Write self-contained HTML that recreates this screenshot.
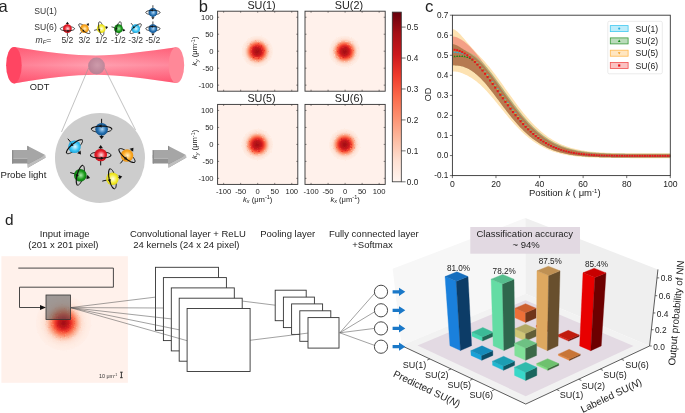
<!DOCTYPE html>
<html><head><meta charset="utf-8"><style>
html,body{margin:0;padding:0;background:#fff;overflow:hidden;width:685px;height:413px;}
svg{display:block;will-change:transform;}
text{font-family:"Liberation Sans",sans-serif;}
</style></head><body>
<svg width="685" height="413" viewBox="0 0 685 413">
<defs><radialGradient id="g_red" cx="0.5" cy="0.5" r="0.55" fx="0.55" fy="0.5"><stop offset="0" stop-color="#ffe0e4"/><stop offset="0.6" stop-color="#e8202c"/><stop offset="1" stop-color="#c01018"/></radialGradient><radialGradient id="g_orange" cx="0.5" cy="0.5" r="0.55" fx="0.55" fy="0.5"><stop offset="0" stop-color="#fff0c8"/><stop offset="0.6" stop-color="#fba820"/><stop offset="1" stop-color="#e08a10"/></radialGradient><radialGradient id="g_yellow" cx="0.5" cy="0.5" r="0.55" fx="0.55" fy="0.5"><stop offset="0" stop-color="#fffff0"/><stop offset="0.6" stop-color="#f4ec30"/><stop offset="1" stop-color="#d8d010"/></radialGradient><radialGradient id="g_green" cx="0.5" cy="0.5" r="0.55" fx="0.55" fy="0.5"><stop offset="0" stop-color="#a8e8a8"/><stop offset="0.6" stop-color="#1a9a1a"/><stop offset="1" stop-color="#0a6a10"/></radialGradient><radialGradient id="g_cyan" cx="0.5" cy="0.5" r="0.55" fx="0.55" fy="0.5"><stop offset="0" stop-color="#e0f8ff"/><stop offset="0.6" stop-color="#38c4f4"/><stop offset="1" stop-color="#1898d0"/></radialGradient><radialGradient id="g_blue" cx="0.5" cy="0.5" r="0.55" fx="0.55" fy="0.5"><stop offset="0" stop-color="#b0d8f8"/><stop offset="0.6" stop-color="#2470b0"/><stop offset="1" stop-color="#104a80"/></radialGradient><linearGradient id="beam" x1="0" y1="0" x2="0" y2="1"><stop offset="0" stop-color="#ff6a80"/><stop offset="0.5" stop-color="#ffa0b0"/><stop offset="1" stop-color="#ff5a74"/></linearGradient><linearGradient id="beamH" x1="0" y1="0" x2="1" y2="0"><stop offset="0" stop-color="#ff4060" stop-opacity="0.35"/><stop offset="0.5" stop-color="#ff4060" stop-opacity="0"/><stop offset="1" stop-color="#ff4060" stop-opacity="0.25"/></linearGradient><radialGradient id="pur" cx="0.55" cy="0.45" r="0.6"><stop offset="0" stop-color="#c89aaa"/><stop offset="1" stop-color="#b07e92"/></radialGradient><linearGradient id="arr" x1="0" y1="0" x2="0" y2="1"><stop offset="0" stop-color="#c8c8c8"/><stop offset="0.45" stop-color="#b0b0b0"/><stop offset="1" stop-color="#8a8a8a"/></linearGradient><filter id="speck" x="-10%" y="-10%" width="120%" height="120%"><feTurbulence type="fractalNoise" baseFrequency="0.7" numOctaves="1" seed="3" result="n"/><feDisplacementMap in="SourceGraphic" in2="n" scale="2.6" xChannelSelector="R" yChannelSelector="G"/></filter><radialGradient id="blob" cx="0.5" cy="0.5" r="0.5"><stop offset="0.000" stop-color="#a60f15" stop-opacity="1.0"/><stop offset="0.033" stop-color="#a71015" stop-opacity="1.0"/><stop offset="0.067" stop-color="#aa1016" stop-opacity="1.0"/><stop offset="0.100" stop-color="#ad1117" stop-opacity="1.0"/><stop offset="0.133" stop-color="#b11218" stop-opacity="1.0"/><stop offset="0.167" stop-color="#b61319" stop-opacity="1.0"/><stop offset="0.200" stop-color="#bc141a" stop-opacity="1.0"/><stop offset="0.233" stop-color="#c2161b" stop-opacity="1.0"/><stop offset="0.267" stop-color="#ca181d" stop-opacity="1.0"/><stop offset="0.300" stop-color="#d21e20" stop-opacity="1.0"/><stop offset="0.333" stop-color="#da2723" stop-opacity="1.0"/><stop offset="0.367" stop-color="#e43128" stop-opacity="1.0"/><stop offset="0.400" stop-color="#ef3c2d" stop-opacity="1.0"/><stop offset="0.433" stop-color="#f44d37" stop-opacity="1.0"/><stop offset="0.467" stop-color="#f85f43" stop-opacity="1.0"/><stop offset="0.500" stop-color="#fb7151" stop-opacity="1.0"/><stop offset="0.533" stop-color="#fc8363" stop-opacity="1.0"/><stop offset="0.567" stop-color="#fc9474" stop-opacity="1.0"/><stop offset="0.600" stop-color="#fca588" stop-opacity="1.0"/><stop offset="0.633" stop-color="#fcb59a" stop-opacity="1.0"/><stop offset="0.667" stop-color="#fcc3ab" stop-opacity="1.0"/><stop offset="0.700" stop-color="#fdceba" stop-opacity="1.0"/><stop offset="0.733" stop-color="#fed7c7" stop-opacity="1.0"/><stop offset="0.767" stop-color="#fedfd1" stop-opacity="1.0"/><stop offset="0.800" stop-color="#fee3d7" stop-opacity="1.0"/><stop offset="0.833" stop-color="#fee6db" stop-opacity="1.0"/><stop offset="0.867" stop-color="#fee8de" stop-opacity="1.0"/><stop offset="0.900" stop-color="#feeae0" stop-opacity="1.0"/><stop offset="0.933" stop-color="#ffece2" stop-opacity="1.0"/><stop offset="0.967" stop-color="#ffede4" stop-opacity="1.0"/><stop offset="1.000" stop-color="#ffede5" stop-opacity="0.0"/></radialGradient><linearGradient id="cbar" x1="0" y1="1" x2="0" y2="0"><stop offset="0" stop-color="#fff5f0"/><stop offset="0.125" stop-color="#fee0d2"/><stop offset="0.25" stop-color="#fcbba1"/><stop offset="0.375" stop-color="#fc9272"/><stop offset="0.5" stop-color="#fb6a4a"/><stop offset="0.625" stop-color="#ef3b2c"/><stop offset="0.75" stop-color="#cb181d"/><stop offset="0.875" stop-color="#a50f15"/><stop offset="1" stop-color="#67000d"/></linearGradient><radialGradient id="blob2" cx="0.5" cy="0.5" r="0.5"><stop offset="0.000" stop-color="#a30f15" stop-opacity="1.0"/><stop offset="0.033" stop-color="#a70f15" stop-opacity="1.0"/><stop offset="0.067" stop-color="#ac1116" stop-opacity="1.0"/><stop offset="0.100" stop-color="#b21218" stop-opacity="1.0"/><stop offset="0.133" stop-color="#ba1419" stop-opacity="1.0"/><stop offset="0.167" stop-color="#c3161b" stop-opacity="1.0"/><stop offset="0.200" stop-color="#ce1b1e" stop-opacity="1.0"/><stop offset="0.233" stop-color="#d92523" stop-opacity="1.0"/><stop offset="0.267" stop-color="#e53128" stop-opacity="1.0"/><stop offset="0.300" stop-color="#f03e2e" stop-opacity="1.0"/><stop offset="0.333" stop-color="#f5513a" stop-opacity="1.0"/><stop offset="0.367" stop-color="#f96446" stop-opacity="1.0"/><stop offset="0.400" stop-color="#fb7656" stop-opacity="1.0"/><stop offset="0.433" stop-color="#fc8767" stop-opacity="1.0"/><stop offset="0.467" stop-color="#fc9879" stop-opacity="1.0"/><stop offset="0.500" stop-color="#fca98c" stop-opacity="1.0"/><stop offset="0.533" stop-color="#fcb89e" stop-opacity="1.0"/><stop offset="0.567" stop-color="#fdc5ae" stop-opacity="1.0"/><stop offset="0.600" stop-color="#fdcfbc" stop-opacity="1.0"/><stop offset="0.633" stop-color="#fed8c8" stop-opacity="1.0"/><stop offset="0.667" stop-color="#fee0d2" stop-opacity="1.0"/><stop offset="0.700" stop-color="#fee3d7" stop-opacity="1.0"/><stop offset="0.733" stop-color="#fee6db" stop-opacity="1.0"/><stop offset="0.767" stop-color="#fee8de" stop-opacity="1.0"/><stop offset="0.800" stop-color="#feeae1" stop-opacity="1.0"/><stop offset="0.833" stop-color="#ffece2" stop-opacity="1.0"/><stop offset="0.867" stop-color="#ffede4" stop-opacity="1.0"/><stop offset="0.900" stop-color="#ffede5" stop-opacity="1.0"/><stop offset="0.933" stop-color="#ffeee6" stop-opacity="1.0"/><stop offset="0.967" stop-color="#ffeee7" stop-opacity="1.0"/><stop offset="1.000" stop-color="#ffefe7" stop-opacity="0.0"/></radialGradient><linearGradient id="kwin" x1="0" y1="0" x2="1" y2="1"><stop offset="0" stop-color="#9a9494"/><stop offset="0.55" stop-color="#8a6a6a"/><stop offset="1" stop-color="#6a2a2a"/></linearGradient></defs>
<rect width="685" height="413" fill="#fff"/>
<text x="-1.5" y="12.1" font-size="16.5" font-family="Liberation Sans, sans-serif" fill="#222">a</text>
<text x="34.3" y="14.3" font-size="8.6" font-family="Liberation Sans, sans-serif" fill="#333">SU(1)</text>
<text x="34.3" y="30.1" font-size="8.6" font-family="Liberation Sans, sans-serif" fill="#333">SU(6)</text>
<text x="35.5" y="42.5" font-size="8.6" font-family="Liberation Sans, sans-serif" fill="#333"><tspan font-style="italic">m</tspan><tspan font-style="italic" font-size="6" dy="1.5">F</tspan><tspan dy="-1.5">=</tspan></text>
<line x1="67.40" y1="35.96" x2="67.40" y2="23.95" stroke="#111" stroke-width="0.75"/>
<polygon points="67.40,21.66 68.98,23.95 65.82,23.95" fill="#111"/>
<polyline points="74.53,28.70 74.47,28.41 74.29,28.13 73.99,27.86 73.57,27.60 73.06,27.36 72.44,27.14 71.74,26.95 70.96,26.79 70.13,26.67 69.24,26.57 68.33,26.52 67.40,26.50 66.47,26.52 65.56,26.57 64.67,26.67 63.84,26.79 63.06,26.95 62.36,27.14 61.74,27.36 61.23,27.60 60.81,27.86 60.51,28.13 60.33,28.41 60.27,28.70" fill="none" stroke="#111" stroke-width="0.75"/>
<circle cx="67.4" cy="28.7" r="4.4" fill="url(#g_red)"/>
<polyline points="74.53,28.70 74.47,28.99 74.29,29.27 73.99,29.54 73.57,29.80 73.06,30.04 72.44,30.26 71.74,30.45 70.96,30.61 70.13,30.73 69.24,30.83 68.33,30.88 67.40,30.90 66.47,30.88 65.56,30.83 64.67,30.73 63.84,30.61 63.06,30.45 62.36,30.26 61.74,30.04 61.23,29.80 60.81,29.54 60.51,29.27 60.33,28.99 60.27,28.70" fill="none" stroke="#111" stroke-width="0.86"/>
<polygon points="69.38,30.94 67.38,32.13 67.42,29.67" fill="#111"/>
<text x="67.4" y="43" font-size="8.6" font-family="Liberation Sans, sans-serif" fill="#333" text-anchor="middle">5/2</text>
<line x1="79.73" y1="34.26" x2="87.45" y2="25.06" stroke="#111" stroke-width="0.75"/>
<polygon points="88.93,23.31 88.67,26.08 86.24,24.04" fill="#111"/>
<polyline points="89.86,33.28 90.00,33.02 90.04,32.69 89.99,32.29 89.84,31.83 89.59,31.31 89.26,30.75 88.85,30.15 88.35,29.53 87.80,28.90 87.18,28.26 86.51,27.63 85.81,27.01 85.09,26.43 84.35,25.89 83.62,25.39 82.89,24.95 82.20,24.57 81.54,24.27 80.93,24.04 80.38,23.89 79.90,23.82 79.49,23.84 79.17,23.94 78.94,24.12" fill="none" stroke="#111" stroke-width="0.75"/>
<circle cx="84.4" cy="28.7" r="4.4" fill="url(#g_orange)"/>
<polyline points="89.86,33.28 89.63,33.46 89.31,33.56 88.90,33.58 88.42,33.51 87.87,33.36 87.26,33.13 86.60,32.83 85.91,32.45 85.18,32.01 84.45,31.51 83.71,30.97 82.99,30.39 82.29,29.77 81.62,29.14 81.00,28.50 80.45,27.87 79.95,27.25 79.54,26.65 79.21,26.09 78.96,25.57 78.81,25.11 78.76,24.71 78.80,24.38 78.94,24.12" fill="none" stroke="#111" stroke-width="0.86"/>
<polygon points="84.48,31.69 82.18,31.31 83.80,29.46" fill="#111"/>
<text x="84.4" y="43" font-size="8.6" font-family="Liberation Sans, sans-serif" fill="#333" text-anchor="middle">3/2</text>
<line x1="94.13" y1="30.33" x2="105.83" y2="27.63" stroke="#111" stroke-width="0.75"/>
<polygon points="108.06,27.12 106.19,29.17 105.47,26.09" fill="#111"/>
<polyline points="102.80,35.65 103.07,35.52 103.30,35.28 103.50,34.93 103.66,34.47 103.78,33.91 103.85,33.26 103.88,32.54 103.86,31.74 103.79,30.90 103.69,30.02 103.53,29.12 103.34,28.21 103.12,27.30 102.86,26.42 102.57,25.58 102.25,24.80 101.92,24.08 101.58,23.44 101.23,22.89 100.88,22.44 100.54,22.09 100.21,21.86 99.89,21.75 99.60,21.75" fill="none" stroke="#111" stroke-width="0.75"/>
<circle cx="101.2" cy="28.7" r="4.4" fill="url(#g_yellow)"/>
<polyline points="102.80,35.65 102.51,35.65 102.19,35.54 101.86,35.31 101.52,34.96 101.17,34.51 100.82,33.96 100.48,33.32 100.15,32.60 99.83,31.82 99.54,30.98 99.28,30.10 99.06,29.19 98.87,28.28 98.71,27.38 98.61,26.50 98.54,25.66 98.52,24.86 98.55,24.14 98.62,23.49 98.74,22.93 98.90,22.47 99.10,22.12 99.33,21.88 99.60,21.75" fill="none" stroke="#111" stroke-width="0.86"/>
<polygon points="99.46,31.13 97.85,29.45 100.26,28.94" fill="#111"/>
<text x="101.2" y="43" font-size="8.6" font-family="Liberation Sans, sans-serif" fill="#333" text-anchor="middle">1/2</text>
<line x1="111.49" y1="26.82" x2="123.09" y2="29.93" stroke="#111" stroke-width="0.75"/>
<polygon points="125.30,30.52 122.68,31.46 123.50,28.40" fill="#111"/>
<polyline points="116.66,35.59 116.95,35.60 117.27,35.50 117.61,35.28 117.96,34.95 118.33,34.51 118.70,33.97 119.06,33.34 119.42,32.64 119.76,31.86 120.08,31.03 120.37,30.16 120.63,29.27 120.85,28.37 121.03,27.47 121.17,26.59 121.26,25.75 121.31,24.96 121.31,24.23 121.26,23.58 121.16,23.02 121.02,22.56 120.83,22.20 120.61,21.95 120.34,21.81" fill="none" stroke="#111" stroke-width="0.75"/>
<circle cx="118.5" cy="28.7" r="4.4" fill="url(#g_green)"/>
<polyline points="116.66,35.59 116.39,35.45 116.17,35.20 115.98,34.84 115.84,34.38 115.74,33.82 115.69,33.17 115.69,32.44 115.74,31.65 115.83,30.81 115.97,29.93 116.15,29.03 116.37,28.13 116.63,27.24 116.92,26.37 117.24,25.54 117.58,24.76 117.94,24.06 118.30,23.43 118.67,22.89 119.04,22.45 119.39,22.12 119.73,21.90 120.05,21.80 120.34,21.81" fill="none" stroke="#111" stroke-width="0.86"/>
<polygon points="115.82,30.03 115.19,27.79 117.56,28.47" fill="#111"/>
<text x="118.5" y="43" font-size="8.6" font-family="Liberation Sans, sans-serif" fill="#333" text-anchor="middle">-1/2</text>
<line x1="131.03" y1="23.14" x2="138.75" y2="32.34" stroke="#111" stroke-width="0.75"/>
<polygon points="140.23,34.09 137.54,33.36 139.97,31.32" fill="#111"/>
<polyline points="130.24,33.28 130.47,33.46 130.79,33.56 131.20,33.58 131.68,33.51 132.23,33.36 132.84,33.13 133.50,32.83 134.19,32.45 134.92,32.01 135.65,31.51 136.39,30.97 137.11,30.39 137.81,29.77 138.48,29.14 139.10,28.50 139.65,27.87 140.15,27.25 140.56,26.65 140.89,26.09 141.14,25.57 141.29,25.11 141.34,24.71 141.30,24.38 141.16,24.12" fill="none" stroke="#111" stroke-width="0.75"/>
<circle cx="135.7" cy="28.7" r="4.4" fill="url(#g_cyan)"/>
<polyline points="130.24,33.28 130.10,33.02 130.06,32.69 130.11,32.29 130.26,31.83 130.51,31.31 130.84,30.75 131.25,30.15 131.75,29.53 132.30,28.90 132.92,28.26 133.59,27.63 134.29,27.01 135.01,26.43 135.75,25.89 136.48,25.39 137.21,24.95 137.90,24.57 138.56,24.27 139.17,24.04 139.72,23.89 140.20,23.82 140.61,23.84 140.93,23.94 141.16,24.12" fill="none" stroke="#111" stroke-width="0.86"/>
<polygon points="132.74,28.26 133.51,26.06 135.06,27.97" fill="#111"/>
<text x="135.7" y="43" font-size="8.6" font-family="Liberation Sans, sans-serif" fill="#333" text-anchor="middle">-3/2</text>
<line x1="152.90" y1="21.44" x2="152.90" y2="33.45" stroke="#111" stroke-width="0.75"/>
<polygon points="152.90,35.74 151.32,33.45 154.48,33.45" fill="#111"/>
<polyline points="145.77,28.70 145.83,28.99 146.01,29.27 146.31,29.54 146.73,29.80 147.24,30.04 147.86,30.26 148.56,30.45 149.34,30.61 150.17,30.73 151.06,30.83 151.97,30.88 152.90,30.90 153.83,30.88 154.74,30.83 155.63,30.73 156.46,30.61 157.24,30.45 157.94,30.26 158.56,30.04 159.07,29.80 159.49,29.54 159.79,29.27 159.97,28.99 160.03,28.70" fill="none" stroke="#111" stroke-width="0.75"/>
<circle cx="152.9" cy="28.7" r="4.4" fill="url(#g_blue)"/>
<polyline points="145.77,28.70 145.83,28.41 146.01,28.13 146.31,27.86 146.73,27.60 147.24,27.36 147.86,27.14 148.56,26.95 149.34,26.79 150.17,26.67 151.06,26.57 151.97,26.52 152.90,26.50 153.83,26.52 154.74,26.57 155.63,26.67 156.46,26.79 157.24,26.95 157.94,27.14 158.56,27.36 159.07,27.60 159.49,27.86 159.79,28.13 159.97,28.41 160.03,28.70" fill="none" stroke="#111" stroke-width="0.86"/>
<polygon points="150.92,26.46 152.92,25.27 152.88,27.73" fill="#111"/>
<text x="152.9" y="43" font-size="8.6" font-family="Liberation Sans, sans-serif" fill="#333" text-anchor="middle">-5/2</text>
<line x1="152.90" y1="5.24" x2="152.90" y2="17.25" stroke="#111" stroke-width="0.75"/>
<polygon points="152.90,19.54 151.32,17.25 154.48,17.25" fill="#111"/>
<polyline points="145.77,12.50 145.83,12.79 146.01,13.07 146.31,13.34 146.73,13.60 147.24,13.84 147.86,14.06 148.56,14.25 149.34,14.41 150.17,14.53 151.06,14.63 151.97,14.68 152.90,14.70 153.83,14.68 154.74,14.63 155.63,14.53 156.46,14.41 157.24,14.25 157.94,14.06 158.56,13.84 159.07,13.60 159.49,13.34 159.79,13.07 159.97,12.79 160.03,12.50" fill="none" stroke="#111" stroke-width="0.75"/>
<circle cx="152.9" cy="12.5" r="4.4" fill="url(#g_blue)"/>
<polyline points="145.77,12.50 145.83,12.21 146.01,11.93 146.31,11.66 146.73,11.40 147.24,11.16 147.86,10.94 148.56,10.75 149.34,10.59 150.17,10.47 151.06,10.37 151.97,10.32 152.90,10.30 153.83,10.32 154.74,10.37 155.63,10.47 156.46,10.59 157.24,10.75 157.94,10.94 158.56,11.16 159.07,11.40 159.49,11.66 159.79,11.93 159.97,12.21 160.03,12.50" fill="none" stroke="#111" stroke-width="0.86"/>
<polygon points="150.92,10.26 152.92,9.07 152.88,11.53" fill="#111"/>
<path d="M13.9,47 C45,52 75,55.5 96,55.5 C118,55.5 148,51 176.4,47.2 L176.4,83 C148,79 118,74.8 96,74.8 C75,74.8 45,78 13.9,83.4 Z" fill="url(#beam)"/>
<path d="M13.9,47 C45,52 75,55.5 96,55.5 C118,55.5 148,51 176.4,47.2 L176.4,83 C148,79 118,74.8 96,74.8 C75,74.8 45,78 13.9,83.4 Z" fill="url(#beamH)"/>
<ellipse cx="13.9" cy="65.2" rx="7.8" ry="18.2" fill="#ff4562"/>
<ellipse cx="176.4" cy="65.1" rx="7.8" ry="17.9" fill="#ff8898"/>
<circle cx="96.5" cy="66" r="8.4" fill="url(#pur)" opacity="0.9"/>
<text x="29.8" y="89.8" font-size="9.3" font-family="Liberation Sans, sans-serif" fill="#222">ODT</text>
<line x1="88.5" y1="68" x2="61.5" y2="132" stroke="#999" stroke-width="0.6"/>
<line x1="104.5" y1="68" x2="135.5" y2="130" stroke="#999" stroke-width="0.6"/>
<circle cx="100" cy="158" r="45" fill="#cdcdcd"/>
<line x1="101.60" y1="118.80" x2="101.60" y2="136.00" stroke="#111" stroke-width="1.0"/>
<polygon points="101.60,139.28 99.33,136.00 103.87,136.00" fill="#111"/>
<polyline points="91.39,129.20 91.48,129.61 91.74,130.02 92.17,130.41 92.76,130.77 93.50,131.12 94.38,131.43 95.39,131.70 96.50,131.93 97.69,132.11 98.96,132.24 100.27,132.32 101.60,132.35 102.93,132.32 104.24,132.24 105.51,132.11 106.70,131.93 107.81,131.70 108.82,131.43 109.70,131.12 110.44,130.77 111.03,130.41 111.46,130.02 111.72,129.61 111.81,129.20" fill="none" stroke="#111" stroke-width="1.0"/>
<circle cx="101.6" cy="129.2" r="6.3" fill="url(#g_blue)"/>
<polyline points="91.39,129.20 91.48,128.79 91.74,128.38 92.17,127.99 92.76,127.62 93.50,127.28 94.38,126.97 95.39,126.70 96.50,126.47 97.69,126.29 98.96,126.16 100.27,126.08 101.60,126.05 102.93,126.08 104.24,126.16 105.51,126.29 106.70,126.47 107.81,126.70 108.82,126.97 109.70,127.28 110.44,127.62 111.03,127.99 111.46,128.38 111.72,128.79 111.81,129.20" fill="none" stroke="#111" stroke-width="1.15"/>
<polygon points="98.77,125.99 101.64,124.29 101.56,127.81" fill="#111"/>
<line x1="67.82" y1="138.74" x2="78.87" y2="151.91" stroke="#111" stroke-width="1.0"/>
<polygon points="80.98,154.42 77.14,153.37 80.61,150.45" fill="#111"/>
<polyline points="66.68,153.26 67.01,153.52 67.47,153.66 68.05,153.68 68.74,153.59 69.53,153.37 70.40,153.05 71.35,152.61 72.34,152.07 73.38,151.44 74.43,150.73 75.49,149.95 76.52,149.11 77.53,148.24 78.48,147.33 79.36,146.42 80.16,145.51 80.87,144.62 81.46,143.77 81.94,142.96 82.28,142.23 82.50,141.56 82.58,140.99 82.52,140.51 82.32,140.14" fill="none" stroke="#111" stroke-width="1.0"/>
<circle cx="74.5" cy="146.7" r="6.3" fill="url(#g_cyan)"/>
<polyline points="66.68,153.26 66.48,152.89 66.42,152.41 66.50,151.84 66.72,151.17 67.06,150.44 67.54,149.63 68.13,148.78 68.84,147.89 69.64,146.98 70.52,146.07 71.47,145.16 72.48,144.29 73.51,143.45 74.57,142.67 75.62,141.96 76.66,141.33 77.65,140.79 78.60,140.35 79.47,140.03 80.26,139.81 80.95,139.72 81.53,139.74 81.99,139.88 82.32,140.14" fill="none" stroke="#111" stroke-width="1.15"/>
<polygon points="70.27,146.06 71.37,142.91 73.58,145.66" fill="#111"/>
<line x1="100.70" y1="165.40" x2="100.70" y2="148.20" stroke="#111" stroke-width="1.0"/>
<polygon points="100.70,144.92 102.97,148.20 98.43,148.20" fill="#111"/>
<polyline points="110.91,155.00 110.82,154.59 110.56,154.18 110.13,153.79 109.54,153.43 108.80,153.08 107.92,152.77 106.91,152.50 105.80,152.27 104.61,152.09 103.34,151.96 102.03,151.88 100.70,151.85 99.37,151.88 98.06,151.96 96.79,152.09 95.60,152.27 94.49,152.50 93.48,152.77 92.60,153.08 91.86,153.43 91.27,153.79 90.84,154.18 90.58,154.59 90.49,155.00" fill="none" stroke="#111" stroke-width="1.0"/>
<circle cx="100.7" cy="155" r="6.3" fill="url(#g_red)"/>
<polyline points="110.91,155.00 110.82,155.41 110.56,155.82 110.13,156.21 109.54,156.57 108.80,156.92 107.92,157.23 106.91,157.50 105.80,157.73 104.61,157.91 103.34,158.04 102.03,158.12 100.70,158.15 99.37,158.12 98.06,158.04 96.79,157.91 95.60,157.73 94.49,157.50 93.48,157.23 92.60,156.92 91.86,156.57 91.27,156.21 90.84,155.82 90.58,155.41 90.49,155.00" fill="none" stroke="#111" stroke-width="1.15"/>
<polygon points="103.53,158.21 100.66,159.91 100.74,156.39" fill="#111"/>
<line x1="120.32" y1="163.46" x2="131.37" y2="150.29" stroke="#111" stroke-width="1.0"/>
<polygon points="133.48,147.78 133.11,151.75 129.64,148.83" fill="#111"/>
<polyline points="134.82,162.06 135.02,161.69 135.08,161.21 135.00,160.64 134.78,159.97 134.44,159.24 133.96,158.43 133.37,157.58 132.66,156.69 131.86,155.78 130.98,154.87 130.03,153.96 129.02,153.09 127.99,152.25 126.93,151.47 125.88,150.76 124.84,150.13 123.85,149.59 122.90,149.15 122.03,148.83 121.24,148.61 120.55,148.52 119.97,148.54 119.51,148.68 119.18,148.94" fill="none" stroke="#111" stroke-width="1.0"/>
<circle cx="127" cy="155.5" r="6.3" fill="url(#g_orange)"/>
<polyline points="134.82,162.06 134.49,162.32 134.03,162.46 133.45,162.48 132.76,162.39 131.97,162.17 131.10,161.85 130.15,161.41 129.16,160.87 128.12,160.24 127.07,159.53 126.01,158.75 124.98,157.91 123.97,157.04 123.02,156.13 122.14,155.22 121.34,154.31 120.63,153.42 120.04,152.57 119.56,151.76 119.22,151.03 119.00,150.36 118.92,149.79 118.98,149.31 119.18,148.94" fill="none" stroke="#111" stroke-width="1.15"/>
<polygon points="127.11,159.78 123.81,159.24 126.14,156.58" fill="#111"/>
<line x1="70.26" y1="172.61" x2="86.87" y2="177.06" stroke="#111" stroke-width="1.0"/>
<polygon points="90.04,177.91 86.29,179.25 87.46,174.87" fill="#111"/>
<polyline points="77.66,185.16 78.08,185.18 78.54,185.03 79.02,184.72 79.53,184.25 80.06,183.62 80.58,182.85 81.11,181.95 81.61,180.94 82.10,179.83 82.56,178.64 82.97,177.40 83.34,176.12 83.66,174.82 83.92,173.54 84.12,172.28 84.26,171.08 84.32,169.95 84.32,168.91 84.25,167.98 84.11,167.17 83.90,166.50 83.64,165.99 83.32,165.63 82.94,165.44" fill="none" stroke="#111" stroke-width="1.0"/>
<circle cx="80.3" cy="175.3" r="6.3" fill="url(#g_green)"/>
<polyline points="77.66,185.16 77.28,184.97 76.96,184.61 76.70,184.10 76.49,183.43 76.35,182.62 76.28,181.69 76.28,180.65 76.34,179.52 76.48,178.32 76.68,177.06 76.94,175.78 77.26,174.48 77.63,173.20 78.04,171.96 78.50,170.77 78.99,169.66 79.49,168.65 80.02,167.75 80.54,166.98 81.07,166.35 81.58,165.88 82.06,165.57 82.52,165.42 82.94,165.44" fill="none" stroke="#111" stroke-width="1.15"/>
<polygon points="76.47,177.21 75.56,173.99 78.95,174.98" fill="#111"/>
<line x1="102.27" y1="181.14" x2="119.03" y2="177.27" stroke="#111" stroke-width="1.0"/>
<polygon points="122.22,176.53 119.54,179.48 118.52,175.06" fill="#111"/>
<polyline points="114.70,188.74 115.08,188.57 115.41,188.22 115.70,187.72 115.92,187.06 116.09,186.26 116.19,185.33 116.23,184.29 116.21,183.16 116.11,181.95 115.96,180.69 115.74,179.40 115.47,178.09 115.14,176.80 114.77,175.54 114.36,174.34 113.91,173.21 113.44,172.18 112.95,171.27 112.45,170.48 111.95,169.83 111.45,169.34 110.98,169.01 110.52,168.85 110.10,168.86" fill="none" stroke="#111" stroke-width="1.0"/>
<circle cx="112.4" cy="178.8" r="6.3" fill="url(#g_yellow)"/>
<polyline points="114.70,188.74 114.28,188.75 113.82,188.59 113.35,188.26 112.85,187.77 112.35,187.12 111.85,186.33 111.36,185.42 110.89,184.39 110.44,183.26 110.03,182.06 109.66,180.80 109.33,179.51 109.06,178.20 108.84,176.91 108.69,175.65 108.59,174.44 108.57,173.31 108.61,172.27 108.71,171.34 108.88,170.54 109.10,169.88 109.39,169.38 109.72,169.03 110.10,168.86" fill="none" stroke="#111" stroke-width="1.15"/>
<polygon points="109.91,182.28 107.60,179.87 111.06,179.15" fill="#111"/>
<path d="M12.0,155 L27.8,155 L27.8,151 L45.8,157.6 L27.8,167.7 L27.8,163.5 L12.0,163.5 Z" fill="#929292"/><path d="M27.299999999999997,164.6 L45.3,154.9 L45.8,157.6 L27.8,167.7 Z" fill="#bebebe"/><path d="M12.0,150 L27.299999999999997,150 L27.299999999999997,145.8 L45.3,154.9 L27.299999999999997,164.6 L27.299999999999997,158 L12.0,158 Z" fill="#a6a6a6"/><line x1="12.7" y1="158.4" x2="27.5" y2="158.4" stroke="#bcbcbc" stroke-width="0.9"/><path d="M12.0,150 L13.299999999999999,150.8 L13.299999999999999,163.5 L12.0,163.5 Z" fill="#8c8c8c"/><path d="M27.299999999999997,145.8 L28.599999999999998,146.8 L28.599999999999998,150 L27.299999999999997,150 Z" fill="#8c8c8c"/>
<path d="M152.70000000000002,155 L168.5,155 L168.5,151 L186.5,157.6 L168.5,167.7 L168.5,163.5 L152.70000000000002,163.5 Z" fill="#929292"/><path d="M168.0,164.6 L186.0,154.9 L186.5,157.6 L168.5,167.7 Z" fill="#bebebe"/><path d="M152.70000000000002,150 L168.0,150 L168.0,145.8 L186.0,154.9 L168.0,164.6 L168.0,158 L152.70000000000002,158 Z" fill="#a6a6a6"/><line x1="153.4" y1="158.4" x2="168.20000000000002" y2="158.4" stroke="#bcbcbc" stroke-width="0.9"/><path d="M152.70000000000002,150 L154.0,150.8 L154.0,163.5 L152.70000000000002,163.5 Z" fill="#8c8c8c"/><path d="M168.0,145.8 L169.3,146.8 L169.3,150 L168.0,150 Z" fill="#8c8c8c"/>
<text x="0.5" y="178.3" font-size="9.6" font-family="Liberation Sans, sans-serif" fill="#222">Probe light</text>
<text x="198.8" y="12" font-size="16.5" font-family="Liberation Sans, sans-serif" fill="#222">b</text>
<rect x="217.6" y="11.2" width="80.2" height="80.0" fill="#fff1eb"/>
<circle cx="257.3" cy="51.400000000000006" r="16" fill="url(#blob)" filter="url(#speck)"/>
<rect x="217.6" y="11.2" width="80.2" height="80.0" fill="none" stroke="#333" stroke-width="0.9"/>
<line x1="223.65" y1="11.2" x2="223.65" y2="12.7" stroke="#333" stroke-width="0.6"/>
<line x1="223.65" y1="91.2" x2="223.65" y2="89.7" stroke="#333" stroke-width="0.6"/>
<line x1="217.6" y1="85.15" x2="219.1" y2="85.15" stroke="#333" stroke-width="0.6"/>
<line x1="297.8" y1="85.15" x2="296.3" y2="85.15" stroke="#333" stroke-width="0.6"/>
<text x="213.6" y="87.85" font-size="7.6" font-family="Liberation Sans, sans-serif" fill="#222" text-anchor="end">-100</text>
<line x1="240.67" y1="11.2" x2="240.67" y2="12.7" stroke="#333" stroke-width="0.6"/>
<line x1="240.67" y1="91.2" x2="240.67" y2="89.7" stroke="#333" stroke-width="0.6"/>
<line x1="217.6" y1="68.18" x2="219.1" y2="68.18" stroke="#333" stroke-width="0.6"/>
<line x1="297.8" y1="68.18" x2="296.3" y2="68.18" stroke="#333" stroke-width="0.6"/>
<text x="213.6" y="70.88" font-size="7.6" font-family="Liberation Sans, sans-serif" fill="#222" text-anchor="end">-50</text>
<line x1="257.70" y1="11.2" x2="257.70" y2="12.7" stroke="#333" stroke-width="0.6"/>
<line x1="257.70" y1="91.2" x2="257.70" y2="89.7" stroke="#333" stroke-width="0.6"/>
<line x1="217.6" y1="51.20" x2="219.1" y2="51.20" stroke="#333" stroke-width="0.6"/>
<line x1="297.8" y1="51.20" x2="296.3" y2="51.20" stroke="#333" stroke-width="0.6"/>
<text x="213.6" y="53.90" font-size="7.6" font-family="Liberation Sans, sans-serif" fill="#222" text-anchor="end">0</text>
<line x1="274.72" y1="11.2" x2="274.72" y2="12.7" stroke="#333" stroke-width="0.6"/>
<line x1="274.72" y1="91.2" x2="274.72" y2="89.7" stroke="#333" stroke-width="0.6"/>
<line x1="217.6" y1="34.23" x2="219.1" y2="34.23" stroke="#333" stroke-width="0.6"/>
<line x1="297.8" y1="34.23" x2="296.3" y2="34.23" stroke="#333" stroke-width="0.6"/>
<text x="213.6" y="36.93" font-size="7.6" font-family="Liberation Sans, sans-serif" fill="#222" text-anchor="end">50</text>
<line x1="291.75" y1="11.2" x2="291.75" y2="12.7" stroke="#333" stroke-width="0.6"/>
<line x1="291.75" y1="91.2" x2="291.75" y2="89.7" stroke="#333" stroke-width="0.6"/>
<line x1="217.6" y1="17.25" x2="219.1" y2="17.25" stroke="#333" stroke-width="0.6"/>
<line x1="297.8" y1="17.25" x2="296.3" y2="17.25" stroke="#333" stroke-width="0.6"/>
<text x="213.6" y="19.95" font-size="7.6" font-family="Liberation Sans, sans-serif" fill="#222" text-anchor="end">100</text>
<text x="261.5" y="8.799999999999999" font-size="10.8" font-family="Liberation Sans, sans-serif" fill="#222" text-anchor="middle">SU(1)</text>
<text transform="translate(197.29999999999998,51.2) rotate(-90)" font-size="7.6" font-family="Liberation Sans, sans-serif" fill="#222" text-anchor="middle"><tspan font-style="italic">k</tspan><tspan font-style="italic" font-size="5.5" dy="1.5">y</tspan><tspan dy="-1.5"> (μm</tspan><tspan font-size="5.5" dy="-2.5">-1</tspan><tspan dy="2.5">)</tspan></text>
<rect x="305.0" y="11.2" width="80.2" height="80.0" fill="#fff1eb"/>
<circle cx="344.70000000000005" cy="51.400000000000006" r="16" fill="url(#blob)" filter="url(#speck)"/>
<rect x="305.0" y="11.2" width="80.2" height="80.0" fill="none" stroke="#333" stroke-width="0.9"/>
<line x1="311.05" y1="11.2" x2="311.05" y2="12.7" stroke="#333" stroke-width="0.6"/>
<line x1="311.05" y1="91.2" x2="311.05" y2="89.7" stroke="#333" stroke-width="0.6"/>
<line x1="305.0" y1="85.15" x2="306.5" y2="85.15" stroke="#333" stroke-width="0.6"/>
<line x1="385.2" y1="85.15" x2="383.7" y2="85.15" stroke="#333" stroke-width="0.6"/>
<line x1="328.08" y1="11.2" x2="328.08" y2="12.7" stroke="#333" stroke-width="0.6"/>
<line x1="328.08" y1="91.2" x2="328.08" y2="89.7" stroke="#333" stroke-width="0.6"/>
<line x1="305.0" y1="68.18" x2="306.5" y2="68.18" stroke="#333" stroke-width="0.6"/>
<line x1="385.2" y1="68.18" x2="383.7" y2="68.18" stroke="#333" stroke-width="0.6"/>
<line x1="345.10" y1="11.2" x2="345.10" y2="12.7" stroke="#333" stroke-width="0.6"/>
<line x1="345.10" y1="91.2" x2="345.10" y2="89.7" stroke="#333" stroke-width="0.6"/>
<line x1="305.0" y1="51.20" x2="306.5" y2="51.20" stroke="#333" stroke-width="0.6"/>
<line x1="385.2" y1="51.20" x2="383.7" y2="51.20" stroke="#333" stroke-width="0.6"/>
<line x1="362.12" y1="11.2" x2="362.12" y2="12.7" stroke="#333" stroke-width="0.6"/>
<line x1="362.12" y1="91.2" x2="362.12" y2="89.7" stroke="#333" stroke-width="0.6"/>
<line x1="305.0" y1="34.23" x2="306.5" y2="34.23" stroke="#333" stroke-width="0.6"/>
<line x1="385.2" y1="34.23" x2="383.7" y2="34.23" stroke="#333" stroke-width="0.6"/>
<line x1="379.15" y1="11.2" x2="379.15" y2="12.7" stroke="#333" stroke-width="0.6"/>
<line x1="379.15" y1="91.2" x2="379.15" y2="89.7" stroke="#333" stroke-width="0.6"/>
<line x1="305.0" y1="17.25" x2="306.5" y2="17.25" stroke="#333" stroke-width="0.6"/>
<line x1="385.2" y1="17.25" x2="383.7" y2="17.25" stroke="#333" stroke-width="0.6"/>
<text x="348.90000000000003" y="8.799999999999999" font-size="10.8" font-family="Liberation Sans, sans-serif" fill="#222" text-anchor="middle">SU(2)</text>
<rect x="217.6" y="104.4" width="80.2" height="80.0" fill="#fff1eb"/>
<circle cx="257.3" cy="144.6" r="16" fill="url(#blob)" filter="url(#speck)"/>
<rect x="217.6" y="104.4" width="80.2" height="80.0" fill="none" stroke="#333" stroke-width="0.9"/>
<line x1="223.65" y1="104.4" x2="223.65" y2="105.9" stroke="#333" stroke-width="0.6"/>
<line x1="223.65" y1="184.4" x2="223.65" y2="182.9" stroke="#333" stroke-width="0.6"/>
<line x1="217.6" y1="178.35" x2="219.1" y2="178.35" stroke="#333" stroke-width="0.6"/>
<line x1="297.8" y1="178.35" x2="296.3" y2="178.35" stroke="#333" stroke-width="0.6"/>
<text x="213.6" y="181.05" font-size="7.6" font-family="Liberation Sans, sans-serif" fill="#222" text-anchor="end">-100</text>
<text x="223.65" y="193.90" font-size="7.6" font-family="Liberation Sans, sans-serif" fill="#222" text-anchor="middle">-100</text>
<line x1="240.67" y1="104.4" x2="240.67" y2="105.9" stroke="#333" stroke-width="0.6"/>
<line x1="240.67" y1="184.4" x2="240.67" y2="182.9" stroke="#333" stroke-width="0.6"/>
<line x1="217.6" y1="161.38" x2="219.1" y2="161.38" stroke="#333" stroke-width="0.6"/>
<line x1="297.8" y1="161.38" x2="296.3" y2="161.38" stroke="#333" stroke-width="0.6"/>
<text x="213.6" y="164.07" font-size="7.6" font-family="Liberation Sans, sans-serif" fill="#222" text-anchor="end">-50</text>
<text x="240.67" y="193.90" font-size="7.6" font-family="Liberation Sans, sans-serif" fill="#222" text-anchor="middle">-50</text>
<line x1="257.70" y1="104.4" x2="257.70" y2="105.9" stroke="#333" stroke-width="0.6"/>
<line x1="257.70" y1="184.4" x2="257.70" y2="182.9" stroke="#333" stroke-width="0.6"/>
<line x1="217.6" y1="144.40" x2="219.1" y2="144.40" stroke="#333" stroke-width="0.6"/>
<line x1="297.8" y1="144.40" x2="296.3" y2="144.40" stroke="#333" stroke-width="0.6"/>
<text x="213.6" y="147.10" font-size="7.6" font-family="Liberation Sans, sans-serif" fill="#222" text-anchor="end">0</text>
<text x="257.70" y="193.90" font-size="7.6" font-family="Liberation Sans, sans-serif" fill="#222" text-anchor="middle">0</text>
<line x1="274.72" y1="104.4" x2="274.72" y2="105.9" stroke="#333" stroke-width="0.6"/>
<line x1="274.72" y1="184.4" x2="274.72" y2="182.9" stroke="#333" stroke-width="0.6"/>
<line x1="217.6" y1="127.43" x2="219.1" y2="127.43" stroke="#333" stroke-width="0.6"/>
<line x1="297.8" y1="127.43" x2="296.3" y2="127.43" stroke="#333" stroke-width="0.6"/>
<text x="213.6" y="130.12" font-size="7.6" font-family="Liberation Sans, sans-serif" fill="#222" text-anchor="end">50</text>
<text x="274.72" y="193.90" font-size="7.6" font-family="Liberation Sans, sans-serif" fill="#222" text-anchor="middle">50</text>
<line x1="291.75" y1="104.4" x2="291.75" y2="105.9" stroke="#333" stroke-width="0.6"/>
<line x1="291.75" y1="184.4" x2="291.75" y2="182.9" stroke="#333" stroke-width="0.6"/>
<line x1="217.6" y1="110.45" x2="219.1" y2="110.45" stroke="#333" stroke-width="0.6"/>
<line x1="297.8" y1="110.45" x2="296.3" y2="110.45" stroke="#333" stroke-width="0.6"/>
<text x="213.6" y="113.15" font-size="7.6" font-family="Liberation Sans, sans-serif" fill="#222" text-anchor="end">100</text>
<text x="291.75" y="193.90" font-size="7.6" font-family="Liberation Sans, sans-serif" fill="#222" text-anchor="middle">100</text>
<text x="261.5" y="102.0" font-size="10.8" font-family="Liberation Sans, sans-serif" fill="#222" text-anchor="middle">SU(5)</text>
<text transform="translate(197.29999999999998,144.4) rotate(-90)" font-size="7.6" font-family="Liberation Sans, sans-serif" fill="#222" text-anchor="middle"><tspan font-style="italic">k</tspan><tspan font-style="italic" font-size="5.5" dy="1.5">y</tspan><tspan dy="-1.5"> (μm</tspan><tspan font-size="5.5" dy="-2.5">-1</tspan><tspan dy="2.5">)</tspan></text>
<text x="257.7" y="201.70000000000002" font-size="7.6" font-family="Liberation Sans, sans-serif" fill="#222" text-anchor="middle"><tspan font-style="italic">k</tspan><tspan font-style="italic" font-size="5.5" dy="1.5">x</tspan><tspan dy="-1.5"> (μm</tspan><tspan font-size="5.5" dy="-2.5">-1</tspan><tspan dy="2.5">)</tspan></text>
<rect x="305.0" y="104.4" width="80.2" height="80.0" fill="#fff1eb"/>
<circle cx="344.70000000000005" cy="144.6" r="16" fill="url(#blob)" filter="url(#speck)"/>
<rect x="305.0" y="104.4" width="80.2" height="80.0" fill="none" stroke="#333" stroke-width="0.9"/>
<line x1="311.05" y1="104.4" x2="311.05" y2="105.9" stroke="#333" stroke-width="0.6"/>
<line x1="311.05" y1="184.4" x2="311.05" y2="182.9" stroke="#333" stroke-width="0.6"/>
<line x1="305.0" y1="178.35" x2="306.5" y2="178.35" stroke="#333" stroke-width="0.6"/>
<line x1="385.2" y1="178.35" x2="383.7" y2="178.35" stroke="#333" stroke-width="0.6"/>
<text x="311.05" y="193.90" font-size="7.6" font-family="Liberation Sans, sans-serif" fill="#222" text-anchor="middle">-100</text>
<line x1="328.08" y1="104.4" x2="328.08" y2="105.9" stroke="#333" stroke-width="0.6"/>
<line x1="328.08" y1="184.4" x2="328.08" y2="182.9" stroke="#333" stroke-width="0.6"/>
<line x1="305.0" y1="161.38" x2="306.5" y2="161.38" stroke="#333" stroke-width="0.6"/>
<line x1="385.2" y1="161.38" x2="383.7" y2="161.38" stroke="#333" stroke-width="0.6"/>
<text x="328.08" y="193.90" font-size="7.6" font-family="Liberation Sans, sans-serif" fill="#222" text-anchor="middle">-50</text>
<line x1="345.10" y1="104.4" x2="345.10" y2="105.9" stroke="#333" stroke-width="0.6"/>
<line x1="345.10" y1="184.4" x2="345.10" y2="182.9" stroke="#333" stroke-width="0.6"/>
<line x1="305.0" y1="144.40" x2="306.5" y2="144.40" stroke="#333" stroke-width="0.6"/>
<line x1="385.2" y1="144.40" x2="383.7" y2="144.40" stroke="#333" stroke-width="0.6"/>
<text x="345.10" y="193.90" font-size="7.6" font-family="Liberation Sans, sans-serif" fill="#222" text-anchor="middle">0</text>
<line x1="362.12" y1="104.4" x2="362.12" y2="105.9" stroke="#333" stroke-width="0.6"/>
<line x1="362.12" y1="184.4" x2="362.12" y2="182.9" stroke="#333" stroke-width="0.6"/>
<line x1="305.0" y1="127.43" x2="306.5" y2="127.43" stroke="#333" stroke-width="0.6"/>
<line x1="385.2" y1="127.43" x2="383.7" y2="127.43" stroke="#333" stroke-width="0.6"/>
<text x="362.12" y="193.90" font-size="7.6" font-family="Liberation Sans, sans-serif" fill="#222" text-anchor="middle">50</text>
<line x1="379.15" y1="104.4" x2="379.15" y2="105.9" stroke="#333" stroke-width="0.6"/>
<line x1="379.15" y1="184.4" x2="379.15" y2="182.9" stroke="#333" stroke-width="0.6"/>
<line x1="305.0" y1="110.45" x2="306.5" y2="110.45" stroke="#333" stroke-width="0.6"/>
<line x1="385.2" y1="110.45" x2="383.7" y2="110.45" stroke="#333" stroke-width="0.6"/>
<text x="379.15" y="193.90" font-size="7.6" font-family="Liberation Sans, sans-serif" fill="#222" text-anchor="middle">100</text>
<text x="348.90000000000003" y="102.0" font-size="10.8" font-family="Liberation Sans, sans-serif" fill="#222" text-anchor="middle">SU(6)</text>
<text x="345.1" y="201.70000000000002" font-size="7.6" font-family="Liberation Sans, sans-serif" fill="#222" text-anchor="middle"><tspan font-style="italic">k</tspan><tspan font-style="italic" font-size="5.5" dy="1.5">x</tspan><tspan dy="-1.5"> (μm</tspan><tspan font-size="5.5" dy="-2.5">-1</tspan><tspan dy="2.5">)</tspan></text>
<rect x="392.3" y="12.1" width="9.0" height="169.70000000000002" fill="url(#cbar)" stroke="#333" stroke-width="0.8"/>
<line x1="401.3" y1="181.80" x2="405.6" y2="181.80" stroke="#333" stroke-width="0.7"/>
<text x="406.8" y="184.70" font-size="8.2" font-family="Liberation Sans, sans-serif" fill="#222">0.0</text>
<line x1="401.3" y1="150.86" x2="405.6" y2="150.86" stroke="#333" stroke-width="0.7"/>
<text x="406.8" y="153.76" font-size="8.2" font-family="Liberation Sans, sans-serif" fill="#222">0.1</text>
<line x1="401.3" y1="119.92" x2="405.6" y2="119.92" stroke="#333" stroke-width="0.7"/>
<text x="406.8" y="122.82" font-size="8.2" font-family="Liberation Sans, sans-serif" fill="#222">0.2</text>
<line x1="401.3" y1="88.98" x2="405.6" y2="88.98" stroke="#333" stroke-width="0.7"/>
<text x="406.8" y="91.88" font-size="8.2" font-family="Liberation Sans, sans-serif" fill="#222">0.3</text>
<line x1="401.3" y1="58.04" x2="405.6" y2="58.04" stroke="#333" stroke-width="0.7"/>
<text x="406.8" y="60.94" font-size="8.2" font-family="Liberation Sans, sans-serif" fill="#222">0.4</text>
<line x1="401.3" y1="27.10" x2="405.6" y2="27.10" stroke="#333" stroke-width="0.7"/>
<text x="406.8" y="30.00" font-size="8.2" font-family="Liberation Sans, sans-serif" fill="#222">0.5</text>
<text x="425" y="12.1" font-size="16.8" font-family="Liberation Sans, sans-serif" fill="#222">c</text>
<defs><clipPath id="cclip"><rect x="452.4" y="15.2" width="217.89999999999998" height="160.4"/></clipPath></defs>
<g clip-path="url(#cclip)">
<polygon points="452.40,29.03 453.54,29.22 454.79,29.76 456.14,30.63 457.58,31.80 459.10,33.23 460.67,34.87 462.29,36.65 463.93,38.53 465.58,40.46 467.22,42.40 468.84,44.30 470.43,46.14 471.98,47.91 473.49,49.60 474.94,51.21 476.35,52.74 477.71,54.19 479.03,55.59 480.31,56.94 481.55,58.25 482.76,59.55 483.94,60.84 485.10,62.12 486.25,63.41 487.38,64.71 488.50,66.03 489.61,67.37 490.72,68.73 491.82,70.11 492.91,71.51 494.01,72.93 495.10,74.37 496.19,75.82 497.28,77.30 498.38,78.78 499.47,80.28 500.56,81.79 501.65,83.31 502.73,84.84 503.82,86.37 504.91,87.91 506.00,89.44 507.09,90.98 508.18,92.51 509.27,94.04 510.36,95.57 511.45,97.08 512.54,98.59 513.63,100.09 514.72,101.58 515.81,103.05 516.90,104.51 517.99,105.96 519.08,107.39 520.17,108.80 521.26,110.19 522.35,111.57 523.44,112.92 524.52,114.25 525.61,115.56 526.70,116.84 527.79,118.11 528.88,119.34 529.97,120.56 531.06,121.75 532.15,122.91 533.24,124.05 534.33,125.16 535.42,126.24 536.51,127.30 537.60,128.33 538.69,129.33 539.78,130.31 540.87,131.25 541.96,132.18 543.05,133.07 544.14,133.94 545.23,134.78 546.31,135.60 547.40,136.39 548.49,137.15 549.58,137.89 550.67,138.60 551.76,139.29 552.85,139.95 553.94,140.59 555.03,141.21 556.12,141.80 557.21,142.37 558.30,142.92 559.39,143.45 560.48,143.95 561.57,144.44 562.66,144.90 563.75,145.34 564.84,145.77 565.93,146.18 567.02,146.57 568.10,146.94 569.19,147.29 570.28,147.63 571.37,147.95 572.46,148.26 573.55,148.55 574.64,148.83 575.73,149.10 576.82,149.35 577.91,149.58 579.00,149.81 580.09,150.03 581.18,150.23 582.27,150.42 583.36,150.60 584.45,150.78 585.54,150.94 586.63,151.09 587.72,151.24 588.81,151.38 589.89,151.50 590.98,151.63 592.07,151.74 593.16,151.85 594.25,151.95 595.34,152.04 596.43,152.13 597.52,152.22 598.61,152.30 599.70,152.37 600.79,152.44 601.88,152.50 602.97,152.56 604.06,152.62 605.15,152.67 606.24,152.72 607.33,152.77 608.42,152.81 609.51,152.85 610.60,152.89 611.68,152.92 612.77,152.96 613.86,152.99 614.95,153.01 616.04,153.04 617.13,153.06 618.22,153.09 619.31,153.11 620.40,153.13 621.49,153.14 622.58,153.16 623.67,153.18 624.76,153.19 625.85,153.20 626.94,153.21 628.03,153.23 629.12,153.24 630.21,153.24 631.30,153.25 632.39,153.26 633.47,153.27 634.56,153.27 635.65,153.28 636.74,153.29 637.83,153.29 638.92,153.30 640.01,153.30 641.10,153.30 642.19,153.31 643.28,153.31 644.37,153.31 645.46,153.32 646.55,153.32 647.64,153.32 648.73,153.32 649.82,153.33 650.91,153.33 652.00,153.33 653.09,153.33 654.18,153.33 655.26,153.33 656.35,153.33 657.44,153.34 658.53,153.34 659.62,153.34 660.71,153.34 661.80,153.34 662.89,153.34 663.98,153.34 665.07,153.34 666.16,153.34 667.25,153.34 668.34,153.34 669.43,153.34 670.52,153.34 671.61,153.34 672.70,153.34 673.79,153.34 674.88,153.34 675.97,153.34 677.05,153.34 678.14,153.34 679.23,153.34 680.32,153.34 681.41,153.34 682.50,153.34 683.59,153.34 684.68,153.34 685.77,153.34 686.86,153.34 687.95,153.34 689.04,153.34 690.13,153.34 691.22,153.34 692.31,153.34 693.40,153.34 694.49,153.34 695.58,153.34 696.67,153.34 697.76,153.34 698.84,153.34 699.93,153.34 685.77,158.16 684.68,158.16 683.59,158.16 682.50,158.16 681.41,158.16 680.32,158.16 679.23,158.16 678.14,158.16 677.05,158.16 675.97,158.16 674.88,158.16 673.79,158.16 672.70,158.16 671.61,158.16 670.52,158.16 669.43,158.16 668.34,158.16 667.25,158.16 666.16,158.16 665.07,158.16 663.98,158.16 662.89,158.16 661.80,158.16 660.71,158.15 659.62,158.15 658.53,158.15 657.44,158.15 656.35,158.15 655.26,158.15 654.18,158.15 653.09,158.15 652.00,158.15 650.91,158.15 649.82,158.15 648.73,158.15 647.64,158.15 646.55,158.15 645.46,158.15 644.37,158.15 643.28,158.15 642.19,158.15 641.10,158.15 640.01,158.14 638.92,158.14 637.83,158.14 636.74,158.14 635.65,158.14 634.56,158.14 633.47,158.13 632.39,158.13 631.30,158.13 630.21,158.13 629.12,158.12 628.03,158.12 626.94,158.12 625.85,158.11 624.76,158.11 623.67,158.10 622.58,158.10 621.49,158.09 620.40,158.09 619.31,158.08 618.22,158.07 617.13,158.07 616.04,158.06 614.95,158.05 613.86,158.04 612.77,158.03 611.68,158.01 610.60,158.00 609.51,157.99 608.42,157.97 607.33,157.96 606.24,157.94 605.15,157.92 604.06,157.90 602.97,157.88 601.88,157.85 600.79,157.83 599.70,157.80 598.61,157.77 597.52,157.74 596.43,157.70 595.34,157.66 594.25,157.62 593.16,157.58 592.07,157.54 590.98,157.49 589.89,157.43 588.81,157.38 587.72,157.32 586.63,157.25 585.54,157.18 584.45,157.11 583.36,157.03 582.27,156.95 581.18,156.86 580.09,156.76 579.00,156.66 577.91,156.55 576.82,156.44 575.73,156.32 574.64,156.19 573.55,156.05 572.46,155.91 571.37,155.75 570.28,155.59 569.19,155.42 568.10,155.23 567.02,155.04 565.93,154.84 564.84,154.62 563.75,154.40 562.66,154.16 561.57,153.91 560.48,153.64 559.39,153.36 558.30,153.07 557.21,152.76 556.12,152.44 555.03,152.10 553.94,151.75 552.85,151.38 551.76,150.99 550.67,150.58 549.58,150.16 548.49,149.71 547.40,149.25 546.31,148.76 545.23,148.26 544.14,147.73 543.05,147.19 541.96,146.62 540.87,146.02 539.78,145.41 538.69,144.77 537.60,144.11 536.51,143.42 535.42,142.71 534.33,141.98 533.24,141.21 532.15,140.43 531.06,139.62 529.97,138.78 528.88,137.92 527.79,137.03 526.70,136.11 525.61,135.17 524.52,134.20 523.44,133.21 522.35,132.19 521.26,131.15 520.17,130.08 519.08,128.99 517.99,127.87 516.90,126.73 515.81,125.57 514.72,124.39 513.63,123.19 512.54,121.96 511.45,120.72 510.36,119.46 509.27,118.19 508.18,116.90 507.09,115.59 506.00,114.28 504.91,112.95 503.82,111.62 502.73,110.28 501.65,108.93 500.56,107.59 499.47,106.24 498.38,104.89 497.29,103.55 496.20,102.21 495.11,100.88 494.02,99.56 492.93,98.26 491.84,96.97 490.75,95.69 489.66,94.44 488.57,93.20 487.48,91.99 486.39,90.81 485.30,89.66 484.21,88.53 483.13,87.44 482.04,86.38 480.95,85.35 479.86,84.36 478.78,83.41 477.69,82.50 476.61,81.62 475.54,80.79 474.47,79.99 473.40,79.24 472.34,78.53 471.30,77.86 470.27,77.23 469.26,76.64 468.26,76.08 467.30,75.57 466.36,75.10 465.45,74.66 464.58,74.25 463.75,73.88 462.95,73.55 462.20,73.24 461.48,72.97 460.79,72.72 460.13,72.50 459.49,72.31 458.85,72.14 458.20,71.99 457.54,71.87 456.84,71.77 456.09,71.68 455.29,71.62 454.41,71.58 453.45,71.55 452.40,71.54" fill="#fde2b2"/>
<polygon points="452.40,36.45 453.53,36.52 454.72,36.74 455.99,37.09 457.31,37.57 458.68,38.19 460.09,38.93 461.53,39.78 462.99,40.75 464.46,41.81 465.91,42.95 467.36,44.18 468.78,45.48 470.18,46.83 471.54,48.23 472.88,49.68 474.18,51.16 475.45,52.67 476.69,54.19 477.90,55.73 479.09,57.29 480.26,58.84 481.42,60.41 482.56,61.97 483.68,63.54 484.80,65.10 485.91,66.66 487.01,68.22 488.11,69.78 489.21,71.34 490.30,72.90 491.40,74.46 492.49,76.01 493.58,77.57 494.67,79.13 495.76,80.69 496.85,82.25 497.94,83.81 499.03,85.37 500.12,86.92 501.21,88.48 502.30,90.04 503.39,91.59 504.48,93.14 505.57,94.68 506.66,96.22 507.75,97.75 508.84,99.27 509.93,100.79 511.02,102.29 512.10,103.78 513.19,105.25 514.28,106.72 515.37,108.16 516.46,109.59 517.55,111.00 518.64,112.40 519.73,113.77 520.82,115.12 521.91,116.45 523.00,117.76 524.09,119.05 525.18,120.31 526.27,121.55 527.36,122.76 528.45,123.95 529.54,125.11 530.63,126.25 531.72,127.36 532.81,128.44 533.89,129.50 534.98,130.53 536.07,131.54 537.16,132.51 538.25,133.46 539.34,134.38 540.43,135.28 541.52,136.15 542.61,136.99 543.70,137.80 544.79,138.59 545.88,139.36 546.97,140.09 548.06,140.81 549.15,141.50 550.24,142.16 551.33,142.80 552.42,143.41 553.51,144.01 554.60,144.58 555.68,145.12 556.77,145.65 557.86,146.16 558.95,146.64 560.04,147.10 561.13,147.55 562.22,147.98 563.31,148.38 564.40,148.77 565.49,149.14 566.58,149.50 567.67,149.84 568.76,150.16 569.85,150.47 570.94,150.76 572.03,151.04 573.12,151.30 574.21,151.55 575.30,151.79 576.39,152.02 577.47,152.23 578.56,152.43 579.65,152.63 580.74,152.81 581.83,152.98 582.92,153.14 584.01,153.30 585.10,153.44 586.19,153.58 587.28,153.71 588.37,153.83 589.46,153.95 590.55,154.05 591.64,154.16 592.73,154.25 593.82,154.34 594.91,154.42 596.00,154.50 597.09,154.58 598.18,154.65 599.26,154.71 600.35,154.77 601.44,154.83 602.53,154.88 603.62,154.93 604.71,154.97 605.80,155.02 606.89,155.06 607.98,155.10 609.07,155.13 610.16,155.16 611.25,155.19 612.34,155.22 613.43,155.25 614.52,155.27 615.61,155.29 616.70,155.31 617.79,155.33 618.88,155.35 619.97,155.37 621.05,155.38 622.14,155.39 623.23,155.41 624.32,155.42 625.41,155.43 626.50,155.44 627.59,155.45 628.68,155.46 629.77,155.47 630.86,155.47 631.95,155.48 633.04,155.49 634.13,155.49 635.22,155.50 636.31,155.50 637.40,155.51 638.49,155.51 639.58,155.51 640.67,155.52 641.76,155.52 642.84,155.52 643.93,155.53 645.02,155.53 646.11,155.53 647.20,155.53 648.29,155.53 649.38,155.54 650.47,155.54 651.56,155.54 652.65,155.54 653.74,155.54 654.83,155.54 655.92,155.54 657.01,155.54 658.10,155.54 659.19,155.54 660.28,155.54 661.37,155.55 662.46,155.55 663.55,155.55 664.63,155.55 665.72,155.55 666.81,155.55 667.90,155.55 668.99,155.55 670.08,155.55 671.17,155.55 672.26,155.55 673.35,155.55 674.44,155.55 675.53,155.55 676.62,155.55 677.71,155.55 678.80,155.55 679.89,155.55 680.98,155.55 682.07,155.55 683.16,155.55 684.25,155.55 685.34,155.55 686.42,155.55 687.51,155.55 688.60,155.55 689.69,155.55 690.78,155.55 691.87,155.55 692.96,155.55 694.05,155.55 695.14,155.55 696.23,155.55 697.32,155.55 687.95,156.35 686.86,156.35 685.77,156.35 684.68,156.35 683.59,156.35 682.50,156.35 681.41,156.35 680.32,156.35 679.23,156.35 678.14,156.35 677.05,156.35 675.97,156.35 674.88,156.35 673.79,156.35 672.70,156.35 671.61,156.35 670.52,156.35 669.43,156.35 668.34,156.35 667.25,156.35 666.16,156.35 665.07,156.35 663.98,156.35 662.89,156.35 661.80,156.35 660.71,156.35 659.62,156.35 658.53,156.35 657.44,156.35 656.35,156.35 655.26,156.35 654.18,156.35 653.09,156.35 652.00,156.35 650.91,156.35 649.82,156.35 648.73,156.35 647.64,156.34 646.55,156.34 645.46,156.34 644.37,156.34 643.28,156.34 642.19,156.34 641.10,156.34 640.01,156.34 638.92,156.34 637.83,156.33 636.74,156.33 635.65,156.33 634.56,156.33 633.47,156.32 632.39,156.32 631.30,156.32 630.21,156.32 629.12,156.31 628.03,156.31 626.94,156.30 625.85,156.30 624.76,156.29 623.67,156.29 622.58,156.28 621.49,156.28 620.40,156.27 619.31,156.26 618.22,156.25 617.13,156.24 616.04,156.23 614.95,156.22 613.86,156.21 612.77,156.20 611.68,156.18 610.60,156.17 609.51,156.15 608.42,156.13 607.33,156.11 606.24,156.09 605.15,156.07 604.06,156.05 602.97,156.02 601.88,155.99 600.79,155.96 599.70,155.93 598.61,155.90 597.52,155.86 596.43,155.82 595.34,155.78 594.25,155.73 593.16,155.68 592.07,155.63 590.98,155.57 589.89,155.51 588.81,155.45 587.72,155.38 586.63,155.30 585.54,155.23 584.45,155.14 583.36,155.05 582.27,154.96 581.18,154.86 580.09,154.75 579.00,154.63 577.91,154.51 576.82,154.38 575.73,154.25 574.64,154.10 573.55,153.95 572.46,153.78 571.37,153.61 570.28,153.43 569.19,153.24 568.10,153.03 567.02,152.82 565.93,152.59 564.84,152.35 563.75,152.10 562.66,151.84 561.57,151.56 560.48,151.27 559.39,150.96 558.30,150.64 557.21,150.30 556.12,149.94 555.03,149.57 553.94,149.18 552.85,148.78 551.76,148.35 550.67,147.91 549.58,147.44 548.49,146.96 547.40,146.45 546.31,145.93 545.23,145.38 544.14,144.81 543.05,144.22 541.96,143.60 540.87,142.96 539.78,142.30 538.69,141.61 537.60,140.90 536.51,140.16 535.42,139.39 534.33,138.61 533.24,137.79 532.15,136.95 531.06,136.08 529.97,135.19 528.88,134.26 527.79,133.31 526.70,132.34 525.61,131.34 524.52,130.31 523.44,129.25 522.35,128.17 521.26,127.06 520.17,125.92 519.08,124.76 517.99,123.58 516.90,122.37 515.81,121.13 514.72,119.87 513.63,118.59 512.54,117.29 511.45,115.96 510.36,114.62 509.27,113.26 508.18,111.88 507.09,110.48 506.00,109.07 504.91,107.65 503.82,106.21 502.73,104.76 501.65,103.31 500.56,101.85 499.47,100.38 498.38,98.92 497.29,97.45 496.20,95.99 495.11,94.54 494.02,93.09 492.93,91.65 491.84,90.23 490.75,88.82 489.66,87.43 488.57,86.07 487.48,84.73 486.39,83.42 485.30,82.14 484.22,80.89 483.13,79.68 482.04,78.51 480.95,77.38 479.87,76.30 478.78,75.26 477.70,74.27 476.62,73.32 475.55,72.43 474.48,71.59 473.42,70.80 472.37,70.06 471.33,69.38 470.31,68.75 469.30,68.16 468.31,67.63 467.34,67.15 466.39,66.71 465.47,66.31 464.57,65.96 463.70,65.65 462.86,65.38 462.03,65.14 461.22,64.94 460.42,64.76 459.63,64.61 458.83,64.48 458.02,64.38 457.19,64.30 456.32,64.23 455.42,64.18 454.47,64.15 453.46,64.13 452.40,64.12" fill="#f4a086"/>
<polygon points="452.40,47.88 453.53,47.91 454.73,48.00 456.00,48.15 457.33,48.37 458.72,48.64 460.14,48.97 461.60,49.36 463.07,49.80 464.55,50.31 466.02,50.87 467.48,51.48 468.92,52.16 470.33,52.88 471.70,53.66 473.05,54.48 474.36,55.36 475.64,56.28 476.88,57.26 478.10,58.27 479.30,59.33 480.47,60.43 481.63,61.57 482.77,62.75 483.90,63.97 485.01,65.22 486.12,66.50 487.23,67.81 488.33,69.16 489.43,70.53 490.52,71.92 491.62,73.33 492.71,74.77 493.80,76.23 494.89,77.70 495.98,79.19 497.07,80.69 498.16,82.20 499.25,83.71 500.34,85.24 501.43,86.77 502.52,88.31 503.61,89.84 504.70,91.38 505.79,92.91 506.87,94.44 507.96,95.97 509.05,97.48 510.14,98.99 511.23,100.49 512.32,101.98 513.41,103.45 514.50,104.91 515.59,106.36 516.68,107.79 517.77,109.20 518.86,110.59 519.95,111.97 521.04,113.32 522.13,114.65 523.22,115.96 524.31,117.24 525.40,118.51 526.49,119.75 527.58,120.96 528.66,122.15 529.75,123.31 530.84,124.45 531.93,125.56 533.02,126.64 534.11,127.70 535.20,128.73 536.29,129.73 537.38,130.71 538.47,131.66 539.56,132.58 540.65,133.47 541.74,134.34 542.83,135.18 543.92,136.00 545.01,136.79 546.10,137.55 547.19,138.29 548.28,139.00 549.37,139.69 550.45,140.35 551.54,140.99 552.63,141.61 553.72,142.20 554.81,142.77 555.90,143.32 556.99,143.85 558.08,144.35 559.17,144.84 560.26,145.30 561.35,145.74 562.44,146.17 563.53,146.58 564.62,146.97 565.71,147.34 566.80,147.69 567.89,148.03 568.98,148.35 570.07,148.66 571.16,148.95 572.25,149.23 573.33,149.50 574.42,149.75 575.51,149.99 576.60,150.21 577.69,150.43 578.78,150.63 579.87,150.82 580.96,151.01 582.05,151.18 583.14,151.34 584.23,151.49 585.32,151.64 586.41,151.78 587.50,151.91 588.59,152.03 589.68,152.14 590.77,152.25 591.86,152.35 592.95,152.45 594.03,152.54 595.12,152.62 596.21,152.70 597.30,152.77 598.39,152.84 599.48,152.91 600.57,152.97 601.66,153.02 602.75,153.08 603.84,153.12 604.93,153.17 606.02,153.21 607.11,153.25 608.20,153.29 609.29,153.33 610.38,153.36 611.47,153.39 612.56,153.42 613.65,153.44 614.74,153.47 615.82,153.49 616.91,153.51 618.00,153.53 619.09,153.54 620.18,153.56 621.27,153.58 622.36,153.59 623.45,153.60 624.54,153.62 625.63,153.63 626.72,153.64 627.81,153.65 628.90,153.65 629.99,153.66 631.08,153.67 632.17,153.68 633.26,153.68 634.35,153.69 635.44,153.69 636.53,153.70 637.62,153.70 638.70,153.71 639.79,153.71 640.88,153.71 641.97,153.72 643.06,153.72 644.15,153.72 645.24,153.72 646.33,153.73 647.42,153.73 648.51,153.73 649.60,153.73 650.69,153.73 651.78,153.73 652.87,153.73 653.96,153.74 655.05,153.74 656.14,153.74 657.23,153.74 658.32,153.74 659.40,153.74 660.49,153.74 661.58,153.74 662.67,153.74 663.76,153.74 664.85,153.74 665.94,153.74 667.03,153.74 668.12,153.74 669.21,153.74 670.30,153.74 671.39,153.74 672.48,153.74 673.57,153.74 674.66,153.74 675.75,153.74 676.84,153.74 677.93,153.74 679.02,153.74 680.11,153.74 681.19,153.74 682.28,153.74 683.37,153.74 684.46,153.75 685.55,153.75 686.64,153.75 687.73,153.75 688.82,153.75 689.91,153.75 691.00,153.75 692.09,153.75 693.18,153.75 694.27,153.75 695.36,153.75 696.45,153.75 697.54,153.75 687.95,157.55 686.86,157.55 685.77,157.55 684.68,157.55 683.59,157.55 682.50,157.55 681.41,157.55 680.32,157.55 679.23,157.55 678.14,157.55 677.05,157.55 675.97,157.55 674.88,157.55 673.79,157.55 672.70,157.55 671.61,157.55 670.52,157.55 669.43,157.55 668.34,157.55 667.25,157.55 666.16,157.55 665.07,157.55 663.98,157.55 662.89,157.55 661.80,157.55 660.71,157.55 659.62,157.55 658.53,157.55 657.44,157.55 656.35,157.55 655.26,157.55 654.18,157.55 653.09,157.55 652.00,157.55 650.91,157.55 649.82,157.55 648.73,157.55 647.64,157.55 646.55,157.55 645.46,157.55 644.37,157.55 643.28,157.54 642.19,157.54 641.10,157.54 640.01,157.54 638.92,157.54 637.83,157.54 636.74,157.53 635.65,157.53 634.56,157.53 633.47,157.53 632.39,157.53 631.30,157.52 630.21,157.52 629.12,157.52 628.03,157.51 626.94,157.51 625.85,157.50 624.76,157.50 623.67,157.49 622.58,157.49 621.49,157.48 620.40,157.47 619.31,157.46 618.22,157.45 617.13,157.45 616.04,157.44 614.95,157.42 613.86,157.41 612.77,157.40 611.68,157.39 610.60,157.37 609.51,157.35 608.42,157.34 607.33,157.32 606.24,157.30 605.15,157.27 604.06,157.25 602.97,157.22 601.88,157.20 600.79,157.17 599.70,157.13 598.61,157.10 597.52,157.06 596.43,157.02 595.34,156.98 594.25,156.93 593.16,156.88 592.07,156.83 590.98,156.78 589.89,156.71 588.81,156.65 587.72,156.58 586.63,156.51 585.54,156.43 584.45,156.34 583.36,156.26 582.27,156.16 581.18,156.06 580.09,155.95 579.00,155.84 577.91,155.72 576.82,155.59 575.73,155.45 574.64,155.30 573.55,155.15 572.46,154.99 571.37,154.81 570.28,154.63 569.19,154.44 568.10,154.24 567.02,154.02 565.93,153.80 564.84,153.56 563.75,153.31 562.66,153.04 561.57,152.76 560.48,152.47 559.39,152.16 558.30,151.84 557.21,151.50 556.12,151.15 555.03,150.78 553.94,150.39 552.85,149.98 551.76,149.55 550.67,149.11 549.58,148.65 548.49,148.16 547.40,147.66 546.31,147.13 545.23,146.58 544.14,146.01 543.05,145.42 541.96,144.80 540.87,144.16 539.78,143.50 538.69,142.81 537.60,142.10 536.51,141.36 535.42,140.60 534.33,139.81 533.24,138.99 532.15,138.15 531.06,137.28 529.97,136.39 528.88,135.47 527.79,134.52 526.70,133.54 525.61,132.54 524.52,131.51 523.44,130.45 522.35,129.37 521.26,128.26 520.17,127.13 519.08,125.97 517.99,124.78 516.90,123.57 515.81,122.33 514.72,121.08 513.63,119.79 512.54,118.49 511.45,117.17 510.36,115.82 509.27,114.46 508.18,113.08 507.09,111.68 506.00,110.27 504.91,108.85 503.82,107.41 502.73,105.97 501.65,104.51 500.56,103.05 499.47,101.59 498.38,100.12 497.29,98.66 496.20,97.19 495.11,95.74 494.02,94.29 492.93,92.85 491.84,91.43 490.75,90.02 489.66,88.64 488.57,87.27 487.48,85.93 486.39,84.62 485.30,83.34 484.22,82.09 483.13,80.89 482.04,79.71 480.95,78.59 479.87,77.50 478.78,76.46 477.70,75.47 476.62,74.53 475.55,73.64 474.48,72.79 473.42,72.00 472.37,71.27 471.33,70.58 470.31,69.95 469.30,69.37 468.31,68.83 467.34,68.35 466.39,67.91 465.47,67.52 464.57,67.17 463.70,66.86 462.86,66.58 462.03,66.34 461.22,66.14 460.42,65.96 459.63,65.81 458.83,65.69 458.02,65.58 457.19,65.50 456.32,65.44 455.42,65.39 454.47,65.35 453.46,65.33 452.40,65.32" fill="#b4b27c"/>
<polygon points="452.40,44.07 453.52,44.17 454.69,44.46 455.92,44.92 457.19,45.53 458.51,46.25 459.85,47.05 461.22,47.91 462.60,48.78 463.99,49.66 465.37,50.54 466.74,51.42 468.09,52.29 469.42,53.17 470.73,54.05 472.01,54.95 473.27,55.88 474.51,56.84 475.71,57.83 476.90,58.86 478.07,59.92 479.23,61.03 480.37,62.17 481.49,63.35 482.61,64.57 483.72,65.82 484.83,67.10 485.93,68.42 487.03,69.76 488.12,71.13 489.22,72.52 490.31,73.94 491.40,75.37 492.49,76.83 493.58,78.30 494.67,79.79 495.76,81.29 496.85,82.80 497.94,84.32 499.03,85.84 500.12,87.37 501.21,88.91 502.30,90.44 503.39,91.98 504.48,93.51 505.57,95.04 506.66,96.57 507.75,98.09 508.84,99.59 509.93,101.09 511.02,102.58 512.10,104.06 513.19,105.52 514.28,106.96 515.37,108.39 516.46,109.80 517.55,111.19 518.64,112.57 519.73,113.92 520.82,115.25 521.91,116.56 523.00,117.85 524.09,119.11 525.18,120.35 526.27,121.56 527.36,122.75 528.45,123.91 529.54,125.05 530.63,126.16 531.72,127.24 532.81,128.30 533.89,129.33 534.98,130.33 536.07,131.31 537.16,132.26 538.25,133.18 539.34,134.07 540.43,134.94 541.52,135.78 542.61,136.60 543.70,137.39 544.79,138.15 545.88,138.89 546.97,139.60 548.06,140.29 549.15,140.96 550.24,141.60 551.33,142.21 552.42,142.80 553.51,143.37 554.60,143.92 555.68,144.45 556.77,144.95 557.86,145.44 558.95,145.90 560.04,146.35 561.13,146.77 562.22,147.18 563.31,147.57 564.40,147.94 565.49,148.29 566.58,148.63 567.67,148.96 568.76,149.26 569.85,149.55 570.94,149.83 572.03,150.10 573.12,150.35 574.21,150.59 575.30,150.81 576.39,151.03 577.47,151.23 578.56,151.42 579.65,151.61 580.74,151.78 581.83,151.94 582.92,152.10 584.01,152.24 585.10,152.38 586.19,152.51 587.28,152.63 588.37,152.74 589.46,152.85 590.55,152.95 591.64,153.05 592.73,153.14 593.82,153.22 594.91,153.30 596.00,153.37 597.09,153.44 598.18,153.51 599.26,153.57 600.35,153.62 601.44,153.68 602.53,153.73 603.62,153.77 604.71,153.81 605.80,153.85 606.89,153.89 607.98,153.93 609.07,153.96 610.16,153.99 611.25,154.02 612.34,154.04 613.43,154.07 614.52,154.09 615.61,154.11 616.70,154.13 617.79,154.15 618.88,154.16 619.97,154.18 621.05,154.19 622.14,154.20 623.23,154.22 624.32,154.23 625.41,154.24 626.50,154.25 627.59,154.26 628.68,154.26 629.77,154.27 630.86,154.28 631.95,154.28 633.04,154.29 634.13,154.29 635.22,154.30 636.31,154.30 637.40,154.31 638.49,154.31 639.58,154.31 640.67,154.32 641.76,154.32 642.84,154.32 643.93,154.32 645.02,154.33 646.11,154.33 647.20,154.33 648.29,154.33 649.38,154.33 650.47,154.33 651.56,154.34 652.65,154.34 653.74,154.34 654.83,154.34 655.92,154.34 657.01,154.34 658.10,154.34 659.19,154.34 660.28,154.34 661.37,154.34 662.46,154.34 663.55,154.34 664.63,154.34 665.72,154.34 666.81,154.34 667.90,154.34 668.99,154.35 670.08,154.35 671.17,154.35 672.26,154.35 673.35,154.35 674.44,154.35 675.53,154.35 676.62,154.35 677.71,154.35 678.80,154.35 679.89,154.35 680.98,154.35 682.07,154.35 683.16,154.35 684.25,154.35 685.34,154.35 686.42,154.35 687.51,154.35 688.60,154.35 689.69,154.35 690.78,154.35 691.87,154.35 692.96,154.35 694.05,154.35 695.14,154.35 696.23,154.35 687.95,157.55 686.86,157.55 685.77,157.55 684.68,157.55 683.59,157.55 682.50,157.55 681.41,157.55 680.32,157.55 679.23,157.55 678.14,157.55 677.05,157.55 675.97,157.55 674.88,157.55 673.79,157.55 672.70,157.55 671.61,157.55 670.52,157.55 669.43,157.55 668.34,157.55 667.25,157.55 666.16,157.55 665.07,157.55 663.98,157.55 662.89,157.55 661.80,157.55 660.71,157.55 659.62,157.55 658.53,157.55 657.44,157.55 656.35,157.55 655.26,157.55 654.18,157.55 653.09,157.55 652.00,157.55 650.91,157.55 649.82,157.55 648.73,157.55 647.64,157.55 646.55,157.55 645.46,157.55 644.37,157.55 643.28,157.54 642.19,157.54 641.10,157.54 640.01,157.54 638.92,157.54 637.83,157.54 636.74,157.53 635.65,157.53 634.56,157.53 633.47,157.53 632.39,157.53 631.30,157.52 630.21,157.52 629.12,157.52 628.03,157.51 626.94,157.51 625.85,157.50 624.76,157.50 623.67,157.49 622.58,157.49 621.49,157.48 620.40,157.47 619.31,157.46 618.22,157.45 617.13,157.45 616.04,157.44 614.95,157.42 613.86,157.41 612.77,157.40 611.68,157.39 610.60,157.37 609.51,157.35 608.42,157.34 607.33,157.32 606.24,157.30 605.15,157.27 604.06,157.25 602.97,157.22 601.88,157.20 600.79,157.17 599.70,157.13 598.61,157.10 597.52,157.06 596.43,157.02 595.34,156.98 594.25,156.93 593.16,156.88 592.07,156.83 590.98,156.78 589.89,156.71 588.81,156.65 587.72,156.58 586.63,156.51 585.54,156.43 584.45,156.34 583.36,156.26 582.27,156.16 581.18,156.06 580.09,155.95 579.00,155.84 577.91,155.72 576.82,155.59 575.73,155.45 574.64,155.30 573.55,155.15 572.46,154.99 571.37,154.81 570.28,154.63 569.19,154.44 568.10,154.24 567.02,154.02 565.93,153.80 564.84,153.56 563.75,153.31 562.66,153.04 561.57,152.76 560.48,152.47 559.39,152.16 558.30,151.84 557.21,151.50 556.12,151.15 555.03,150.78 553.94,150.39 552.85,149.98 551.76,149.55 550.67,149.11 549.58,148.65 548.49,148.16 547.40,147.66 546.31,147.13 545.23,146.58 544.14,146.01 543.05,145.42 541.96,144.80 540.87,144.16 539.78,143.50 538.69,142.81 537.60,142.10 536.51,141.36 535.42,140.60 534.33,139.81 533.24,138.99 532.15,138.15 531.06,137.28 529.97,136.39 528.88,135.47 527.79,134.52 526.70,133.54 525.61,132.54 524.52,131.51 523.44,130.45 522.35,129.37 521.26,128.26 520.17,127.13 519.08,125.97 517.99,124.78 516.90,123.57 515.81,122.33 514.72,121.08 513.63,119.79 512.54,118.49 511.45,117.17 510.36,115.82 509.27,114.46 508.18,113.08 507.09,111.68 506.00,110.27 504.91,108.85 503.82,107.41 502.73,105.97 501.65,104.51 500.56,103.05 499.47,101.59 498.38,100.12 497.29,98.66 496.20,97.19 495.11,95.74 494.02,94.29 492.93,92.85 491.84,91.43 490.75,90.02 489.66,88.64 488.57,87.27 487.48,85.93 486.39,84.62 485.30,83.34 484.22,82.09 483.13,80.89 482.04,79.71 480.95,78.59 479.87,77.50 478.78,76.46 477.70,75.47 476.62,74.53 475.55,73.64 474.48,72.79 473.42,72.00 472.37,71.27 471.33,70.58 470.31,69.95 469.30,69.37 468.31,68.83 467.34,68.35 466.39,67.91 465.47,67.52 464.57,67.17 463.70,66.86 462.86,66.58 462.03,66.34 461.22,66.14 460.42,65.96 459.63,65.81 458.83,65.69 458.02,65.58 457.19,65.50 456.32,65.44 455.42,65.39 454.47,65.35 453.46,65.33 452.40,65.32" fill="#b67a50"/>
<polygon points="454.58,55.30 455.68,57.30 453.48,57.30" fill="#1a8a1a"/>
<circle cx="454.58" cy="52.05" r="1.0" fill="#2ab0e0"/>
<polygon points="454.58,52.00 455.68,50.00 453.48,50.00" fill="#f0a020"/>
<rect x="453.58" y="48.81" width="2.0" height="2.0" fill="#e8151b"/>
<polygon points="457.12,55.12 458.22,57.12 456.02,57.12" fill="#1a8a1a"/>
<circle cx="457.12" cy="52.13" r="1.0" fill="#2ab0e0"/>
<polygon points="457.12,52.22 458.22,50.22 456.02,50.22" fill="#f0a020"/>
<rect x="456.12" y="49.25" width="2.0" height="2.0" fill="#e8151b"/>
<polygon points="459.65,54.99 460.75,56.99 458.55,56.99" fill="#1a8a1a"/>
<circle cx="459.65" cy="52.44" r="1.0" fill="#2ab0e0"/>
<polygon points="459.65,52.71 460.75,50.71 458.55,50.71" fill="#f0a020"/>
<rect x="458.65" y="50.03" width="2.0" height="2.0" fill="#e8151b"/>
<polygon points="462.19,55.02 463.29,57.02 461.09,57.02" fill="#1a8a1a"/>
<circle cx="462.19" cy="53.02" r="1.0" fill="#2ab0e0"/>
<polygon points="462.19,53.51 463.29,51.51 461.09,51.51" fill="#f0a020"/>
<rect x="461.19" y="51.11" width="2.0" height="2.0" fill="#e8151b"/>
<polygon points="464.73,55.32 465.83,57.32 463.63,57.32" fill="#1a8a1a"/>
<circle cx="464.73" cy="53.89" r="1.0" fill="#2ab0e0"/>
<polygon points="464.73,54.60 465.83,52.60 463.63,52.60" fill="#f0a020"/>
<rect x="463.73" y="52.51" width="2.0" height="2.0" fill="#e8151b"/>
<polygon points="467.27,55.98 468.37,57.98 466.17,57.98" fill="#1a8a1a"/>
<circle cx="467.27" cy="55.08" r="1.0" fill="#2ab0e0"/>
<polygon points="467.27,56.01 468.37,54.01 466.17,54.01" fill="#f0a020"/>
<rect x="466.27" y="54.20" width="2.0" height="2.0" fill="#e8151b"/>
<polygon points="469.81,57.05 470.91,59.05 468.71,59.05" fill="#1a8a1a"/>
<circle cx="469.81" cy="56.61" r="1.0" fill="#2ab0e0"/>
<polygon points="469.81,57.72 470.91,55.72 468.71,55.72" fill="#f0a020"/>
<rect x="468.81" y="56.17" width="2.0" height="2.0" fill="#e8151b"/>
<polygon points="472.34,58.55 473.44,60.55 471.24,60.55" fill="#1a8a1a"/>
<circle cx="472.34" cy="58.47" r="1.0" fill="#2ab0e0"/>
<polygon points="472.34,59.73 473.44,57.73 471.24,57.73" fill="#f0a020"/>
<rect x="471.34" y="58.40" width="2.0" height="2.0" fill="#e8151b"/>
<polygon points="474.88,60.46 475.98,62.46 473.78,62.46" fill="#1a8a1a"/>
<circle cx="474.88" cy="60.64" r="1.0" fill="#2ab0e0"/>
<polygon points="474.88,62.02 475.98,60.02 473.78,60.02" fill="#f0a020"/>
<rect x="473.88" y="60.88" width="2.0" height="2.0" fill="#e8151b"/>
<polygon points="477.42,62.75 478.52,64.75 476.32,64.75" fill="#1a8a1a"/>
<circle cx="477.42" cy="63.09" r="1.0" fill="#2ab0e0"/>
<polygon points="477.42,64.57 478.52,62.57 476.32,62.57" fill="#f0a020"/>
<rect x="476.42" y="63.57" width="2.0" height="2.0" fill="#e8151b"/>
<polygon points="479.96,65.36 481.06,67.36 478.86,67.36" fill="#1a8a1a"/>
<circle cx="479.96" cy="65.80" r="1.0" fill="#2ab0e0"/>
<polygon points="479.96,67.35 481.06,65.35 478.86,65.35" fill="#f0a020"/>
<rect x="478.96" y="66.46" width="2.0" height="2.0" fill="#e8151b"/>
<polygon points="482.50,68.23 483.60,70.23 481.40,70.23" fill="#1a8a1a"/>
<circle cx="482.50" cy="68.72" r="1.0" fill="#2ab0e0"/>
<polygon points="482.50,70.32 483.60,68.32 481.40,68.32" fill="#f0a020"/>
<rect x="481.50" y="69.53" width="2.0" height="2.0" fill="#e8151b"/>
<polygon points="485.03,71.32 486.13,73.32 483.93,73.32" fill="#1a8a1a"/>
<circle cx="485.03" cy="71.82" r="1.0" fill="#2ab0e0"/>
<polygon points="485.03,73.46 486.13,71.46 483.93,71.46" fill="#f0a020"/>
<rect x="484.03" y="72.75" width="2.0" height="2.0" fill="#e8151b"/>
<polygon points="487.57,74.57 488.67,76.57 486.47,76.57" fill="#1a8a1a"/>
<circle cx="487.57" cy="75.08" r="1.0" fill="#2ab0e0"/>
<polygon points="487.57,76.75 488.67,74.75 486.47,74.75" fill="#f0a020"/>
<rect x="486.57" y="76.09" width="2.0" height="2.0" fill="#e8151b"/>
<polygon points="490.11,77.96 491.21,79.96 489.01,79.96" fill="#1a8a1a"/>
<circle cx="490.11" cy="78.46" r="1.0" fill="#2ab0e0"/>
<polygon points="490.11,80.14 491.21,78.14 489.01,78.14" fill="#f0a020"/>
<rect x="489.11" y="79.53" width="2.0" height="2.0" fill="#e8151b"/>
<polygon points="492.65,81.43 493.75,83.43 491.55,83.43" fill="#1a8a1a"/>
<circle cx="492.65" cy="81.92" r="1.0" fill="#2ab0e0"/>
<polygon points="492.65,83.63 493.75,81.63 491.55,81.63" fill="#f0a020"/>
<rect x="491.65" y="83.04" width="2.0" height="2.0" fill="#e8151b"/>
<polygon points="495.19,84.97 496.29,86.97 494.09,86.97" fill="#1a8a1a"/>
<circle cx="495.19" cy="85.46" r="1.0" fill="#2ab0e0"/>
<polygon points="495.19,87.17 496.29,85.17 494.09,85.17" fill="#f0a020"/>
<rect x="494.19" y="86.60" width="2.0" height="2.0" fill="#e8151b"/>
<polygon points="497.72,88.55 498.82,90.55 496.62,90.55" fill="#1a8a1a"/>
<circle cx="497.72" cy="89.03" r="1.0" fill="#2ab0e0"/>
<polygon points="497.72,90.75 498.82,88.75 496.62,88.75" fill="#f0a020"/>
<rect x="496.72" y="90.19" width="2.0" height="2.0" fill="#e8151b"/>
<polygon points="500.26,92.14 501.36,94.14 499.16,94.14" fill="#1a8a1a"/>
<circle cx="500.26" cy="92.62" r="1.0" fill="#2ab0e0"/>
<polygon points="500.26,94.34 501.36,92.34 499.16,92.34" fill="#f0a020"/>
<rect x="499.26" y="93.78" width="2.0" height="2.0" fill="#e8151b"/>
<polygon points="502.80,95.72 503.90,97.72 501.70,97.72" fill="#1a8a1a"/>
<circle cx="502.80" cy="96.21" r="1.0" fill="#2ab0e0"/>
<polygon points="502.80,97.92 503.90,95.92 501.70,95.92" fill="#f0a020"/>
<rect x="501.80" y="97.35" width="2.0" height="2.0" fill="#e8151b"/>
<polygon points="505.34,99.27 506.44,101.27 504.24,101.27" fill="#1a8a1a"/>
<circle cx="505.34" cy="99.76" r="1.0" fill="#2ab0e0"/>
<polygon points="505.34,101.47 506.44,99.47 504.24,99.47" fill="#f0a020"/>
<rect x="504.34" y="100.88" width="2.0" height="2.0" fill="#e8151b"/>
<polygon points="507.87,102.77 508.97,104.77 506.77,104.77" fill="#1a8a1a"/>
<circle cx="507.87" cy="103.27" r="1.0" fill="#2ab0e0"/>
<polygon points="507.87,104.97 508.97,102.97 506.77,102.97" fill="#f0a020"/>
<rect x="506.87" y="104.35" width="2.0" height="2.0" fill="#e8151b"/>
<polygon points="510.41,106.20 511.51,108.20 509.31,108.20" fill="#1a8a1a"/>
<circle cx="510.41" cy="106.71" r="1.0" fill="#2ab0e0"/>
<polygon points="510.41,108.40 511.51,106.40 509.31,106.40" fill="#f0a020"/>
<rect x="509.41" y="107.74" width="2.0" height="2.0" fill="#e8151b"/>
<polygon points="512.95,109.54 514.05,111.54 511.85,111.54" fill="#1a8a1a"/>
<circle cx="512.95" cy="110.07" r="1.0" fill="#2ab0e0"/>
<polygon points="512.95,111.74 514.05,109.74 511.85,109.74" fill="#f0a020"/>
<rect x="511.95" y="111.05" width="2.0" height="2.0" fill="#e8151b"/>
<polygon points="515.49,112.78 516.59,114.78 514.39,114.78" fill="#1a8a1a"/>
<circle cx="515.49" cy="113.33" r="1.0" fill="#2ab0e0"/>
<polygon points="515.49,114.98 516.59,112.98 514.39,112.98" fill="#f0a020"/>
<rect x="514.49" y="114.24" width="2.0" height="2.0" fill="#e8151b"/>
<polygon points="518.03,115.92 519.13,117.92 516.93,117.92" fill="#1a8a1a"/>
<circle cx="518.03" cy="116.49" r="1.0" fill="#2ab0e0"/>
<polygon points="518.03,118.12 519.13,116.12 516.93,116.12" fill="#f0a020"/>
<rect x="517.03" y="117.33" width="2.0" height="2.0" fill="#e8151b"/>
<polygon points="520.56,118.93 521.66,120.93 519.46,120.93" fill="#1a8a1a"/>
<circle cx="520.56" cy="119.52" r="1.0" fill="#2ab0e0"/>
<polygon points="520.56,121.13 521.66,119.13 519.46,119.13" fill="#f0a020"/>
<rect x="519.56" y="120.28" width="2.0" height="2.0" fill="#e8151b"/>
<polygon points="523.10,121.81 524.20,123.81 522.00,123.81" fill="#1a8a1a"/>
<circle cx="523.10" cy="122.43" r="1.0" fill="#2ab0e0"/>
<polygon points="523.10,124.01 524.20,122.01 522.00,122.01" fill="#f0a020"/>
<rect x="522.10" y="123.11" width="2.0" height="2.0" fill="#e8151b"/>
<polygon points="525.64,124.56 526.74,126.56 524.54,126.56" fill="#1a8a1a"/>
<circle cx="525.64" cy="125.20" r="1.0" fill="#2ab0e0"/>
<polygon points="525.64,126.76 526.74,124.76 524.54,124.76" fill="#f0a020"/>
<rect x="524.64" y="125.79" width="2.0" height="2.0" fill="#e8151b"/>
<polygon points="528.18,127.16 529.28,129.16 527.08,129.16" fill="#1a8a1a"/>
<circle cx="528.18" cy="127.82" r="1.0" fill="#2ab0e0"/>
<polygon points="528.18,129.36 529.28,127.36 527.08,127.36" fill="#f0a020"/>
<rect x="527.18" y="128.33" width="2.0" height="2.0" fill="#e8151b"/>
<polygon points="530.72,129.62 531.82,131.62 529.62,131.62" fill="#1a8a1a"/>
<circle cx="530.72" cy="130.31" r="1.0" fill="#2ab0e0"/>
<polygon points="530.72,131.82 531.82,129.82 529.62,129.82" fill="#f0a020"/>
<rect x="529.72" y="130.73" width="2.0" height="2.0" fill="#e8151b"/>
<polygon points="533.25,131.93 534.35,133.93 532.15,133.93" fill="#1a8a1a"/>
<circle cx="533.25" cy="132.64" r="1.0" fill="#2ab0e0"/>
<polygon points="533.25,134.13 534.35,132.13 532.15,132.13" fill="#f0a020"/>
<rect x="532.25" y="132.98" width="2.0" height="2.0" fill="#e8151b"/>
<polygon points="535.79,134.09 536.89,136.09 534.69,136.09" fill="#1a8a1a"/>
<circle cx="535.79" cy="134.83" r="1.0" fill="#2ab0e0"/>
<polygon points="535.79,136.29 536.89,134.29 534.69,134.29" fill="#f0a020"/>
<rect x="534.79" y="135.08" width="2.0" height="2.0" fill="#e8151b"/>
<polygon points="538.33,136.11 539.43,138.11 537.23,138.11" fill="#1a8a1a"/>
<circle cx="538.33" cy="136.87" r="1.0" fill="#2ab0e0"/>
<polygon points="538.33,138.31 539.43,136.31 537.23,136.31" fill="#f0a020"/>
<rect x="537.33" y="137.03" width="2.0" height="2.0" fill="#e8151b"/>
<polygon points="540.87,137.98 541.97,139.98 539.77,139.98" fill="#1a8a1a"/>
<circle cx="540.87" cy="138.77" r="1.0" fill="#2ab0e0"/>
<polygon points="540.87,140.18 541.97,138.18 539.77,138.18" fill="#f0a020"/>
<rect x="539.87" y="138.85" width="2.0" height="2.0" fill="#e8151b"/>
<polygon points="543.41,139.72 544.51,141.72 542.31,141.72" fill="#1a8a1a"/>
<circle cx="543.41" cy="140.53" r="1.0" fill="#2ab0e0"/>
<polygon points="543.41,141.92 544.51,139.92 542.31,139.92" fill="#f0a020"/>
<rect x="542.41" y="140.52" width="2.0" height="2.0" fill="#e8151b"/>
<polygon points="545.94,141.32 547.04,143.32 544.84,143.32" fill="#1a8a1a"/>
<circle cx="545.94" cy="142.15" r="1.0" fill="#2ab0e0"/>
<polygon points="545.94,143.52 547.04,141.52 544.84,141.52" fill="#f0a020"/>
<rect x="544.94" y="142.06" width="2.0" height="2.0" fill="#e8151b"/>
<polygon points="548.48,142.78 549.58,144.78 547.38,144.78" fill="#1a8a1a"/>
<circle cx="548.48" cy="143.64" r="1.0" fill="#2ab0e0"/>
<polygon points="548.48,144.98 549.58,142.98 547.38,142.98" fill="#f0a020"/>
<rect x="547.48" y="143.47" width="2.0" height="2.0" fill="#e8151b"/>
<polygon points="551.02,144.12 552.12,146.12 549.92,146.12" fill="#1a8a1a"/>
<circle cx="551.02" cy="145.00" r="1.0" fill="#2ab0e0"/>
<polygon points="551.02,146.32 552.12,144.32 549.92,144.32" fill="#f0a020"/>
<rect x="550.02" y="144.76" width="2.0" height="2.0" fill="#e8151b"/>
<polygon points="553.56,145.35 554.66,147.35 552.46,147.35" fill="#1a8a1a"/>
<circle cx="553.56" cy="146.24" r="1.0" fill="#2ab0e0"/>
<polygon points="553.56,147.55 554.66,145.55 552.46,145.55" fill="#f0a020"/>
<rect x="552.56" y="145.93" width="2.0" height="2.0" fill="#e8151b"/>
<polygon points="556.09,146.45 557.19,148.45 554.99,148.45" fill="#1a8a1a"/>
<circle cx="556.09" cy="147.37" r="1.0" fill="#2ab0e0"/>
<polygon points="556.09,148.65 557.19,146.65 554.99,146.65" fill="#f0a020"/>
<rect x="555.09" y="147.00" width="2.0" height="2.0" fill="#e8151b"/>
<polygon points="558.63,147.46 559.73,149.46 557.53,149.46" fill="#1a8a1a"/>
<circle cx="558.63" cy="148.39" r="1.0" fill="#2ab0e0"/>
<polygon points="558.63,149.66 559.73,147.66 557.53,147.66" fill="#f0a020"/>
<rect x="557.63" y="147.96" width="2.0" height="2.0" fill="#e8151b"/>
<polygon points="561.17,148.36 562.27,150.36 560.07,150.36" fill="#1a8a1a"/>
<circle cx="561.17" cy="149.31" r="1.0" fill="#2ab0e0"/>
<polygon points="561.17,150.56 562.27,148.56 560.07,148.56" fill="#f0a020"/>
<rect x="560.17" y="148.82" width="2.0" height="2.0" fill="#e8151b"/>
<polygon points="563.71,149.17 564.81,151.17 562.61,151.17" fill="#1a8a1a"/>
<circle cx="563.71" cy="150.14" r="1.0" fill="#2ab0e0"/>
<polygon points="563.71,151.37 564.81,149.37 562.61,149.37" fill="#f0a020"/>
<rect x="562.71" y="149.59" width="2.0" height="2.0" fill="#e8151b"/>
<polygon points="566.25,149.89 567.35,151.89 565.15,151.89" fill="#1a8a1a"/>
<circle cx="566.25" cy="150.88" r="1.0" fill="#2ab0e0"/>
<polygon points="566.25,152.09 567.35,150.09 565.15,150.09" fill="#f0a020"/>
<rect x="565.25" y="150.28" width="2.0" height="2.0" fill="#e8151b"/>
<polygon points="568.78,150.54 569.88,152.54 567.68,152.54" fill="#1a8a1a"/>
<circle cx="568.78" cy="151.53" r="1.0" fill="#2ab0e0"/>
<polygon points="568.78,152.74 569.88,150.74 567.68,150.74" fill="#f0a020"/>
<rect x="567.78" y="150.89" width="2.0" height="2.0" fill="#e8151b"/>
<polygon points="571.32,151.11 572.42,153.11 570.22,153.11" fill="#1a8a1a"/>
<circle cx="571.32" cy="152.12" r="1.0" fill="#2ab0e0"/>
<polygon points="571.32,153.31 572.42,151.31 570.22,151.31" fill="#f0a020"/>
<rect x="570.32" y="151.44" width="2.0" height="2.0" fill="#e8151b"/>
<polygon points="573.86,151.62 574.96,153.62 572.76,153.62" fill="#1a8a1a"/>
<circle cx="573.86" cy="152.64" r="1.0" fill="#2ab0e0"/>
<polygon points="573.86,153.82 574.96,151.82 572.76,151.82" fill="#f0a020"/>
<rect x="572.86" y="151.92" width="2.0" height="2.0" fill="#e8151b"/>
<polygon points="576.40,152.07 577.50,154.07 575.30,154.07" fill="#1a8a1a"/>
<circle cx="576.40" cy="153.09" r="1.0" fill="#2ab0e0"/>
<polygon points="576.40,154.27 577.50,152.27 575.30,152.27" fill="#f0a020"/>
<rect x="575.40" y="152.34" width="2.0" height="2.0" fill="#e8151b"/>
<polygon points="578.94,152.46 580.04,154.46 577.84,154.46" fill="#1a8a1a"/>
<circle cx="578.94" cy="153.50" r="1.0" fill="#2ab0e0"/>
<polygon points="578.94,154.66 580.04,152.66 577.84,152.66" fill="#f0a020"/>
<rect x="577.94" y="152.71" width="2.0" height="2.0" fill="#e8151b"/>
<polygon points="581.47,152.80 582.57,154.80 580.37,154.80" fill="#1a8a1a"/>
<circle cx="581.47" cy="153.85" r="1.0" fill="#2ab0e0"/>
<polygon points="581.47,155.00 582.57,153.00 580.37,153.00" fill="#f0a020"/>
<rect x="580.47" y="153.04" width="2.0" height="2.0" fill="#e8151b"/>
<polygon points="584.01,153.10 585.11,155.10 582.91,155.10" fill="#1a8a1a"/>
<circle cx="584.01" cy="154.15" r="1.0" fill="#2ab0e0"/>
<polygon points="584.01,155.30 585.11,153.30 582.91,153.30" fill="#f0a020"/>
<rect x="583.01" y="153.32" width="2.0" height="2.0" fill="#e8151b"/>
<polygon points="586.55,153.36 587.65,155.36 585.45,155.36" fill="#1a8a1a"/>
<circle cx="586.55" cy="154.42" r="1.0" fill="#2ab0e0"/>
<polygon points="586.55,155.56 587.65,153.56 585.45,153.56" fill="#f0a020"/>
<rect x="585.55" y="153.56" width="2.0" height="2.0" fill="#e8151b"/>
<polygon points="589.09,153.59 590.19,155.59 587.99,155.59" fill="#1a8a1a"/>
<circle cx="589.09" cy="154.65" r="1.0" fill="#2ab0e0"/>
<polygon points="589.09,155.79 590.19,153.79 587.99,153.79" fill="#f0a020"/>
<rect x="588.09" y="153.78" width="2.0" height="2.0" fill="#e8151b"/>
<polygon points="591.63,153.78 592.73,155.78 590.53,155.78" fill="#1a8a1a"/>
<circle cx="591.63" cy="154.85" r="1.0" fill="#2ab0e0"/>
<polygon points="591.63,155.98 592.73,153.98 590.53,153.98" fill="#f0a020"/>
<rect x="590.63" y="153.96" width="2.0" height="2.0" fill="#e8151b"/>
<polygon points="594.16,153.95 595.26,155.95 593.06,155.95" fill="#1a8a1a"/>
<circle cx="594.16" cy="155.02" r="1.0" fill="#2ab0e0"/>
<polygon points="594.16,156.15 595.26,154.15 593.06,154.15" fill="#f0a020"/>
<rect x="593.16" y="154.11" width="2.0" height="2.0" fill="#e8151b"/>
<polygon points="596.70,154.09 597.80,156.09 595.60,156.09" fill="#1a8a1a"/>
<circle cx="596.70" cy="155.17" r="1.0" fill="#2ab0e0"/>
<polygon points="596.70,156.29 597.80,154.29 595.60,154.29" fill="#f0a020"/>
<rect x="595.70" y="154.25" width="2.0" height="2.0" fill="#e8151b"/>
<polygon points="599.24,154.22 600.34,156.22 598.14,156.22" fill="#1a8a1a"/>
<circle cx="599.24" cy="155.30" r="1.0" fill="#2ab0e0"/>
<polygon points="599.24,156.42 600.34,154.42 598.14,154.42" fill="#f0a020"/>
<rect x="598.24" y="154.36" width="2.0" height="2.0" fill="#e8151b"/>
<polygon points="601.78,154.32 602.88,156.32 600.68,156.32" fill="#1a8a1a"/>
<circle cx="601.78" cy="155.40" r="1.0" fill="#2ab0e0"/>
<polygon points="601.78,156.52 602.88,154.52 600.68,154.52" fill="#f0a020"/>
<rect x="600.78" y="154.46" width="2.0" height="2.0" fill="#e8151b"/>
<polygon points="604.31,154.41 605.41,156.41 603.21,156.41" fill="#1a8a1a"/>
<circle cx="604.31" cy="155.50" r="1.0" fill="#2ab0e0"/>
<polygon points="604.31,156.61 605.41,154.61 603.21,154.61" fill="#f0a020"/>
<rect x="603.31" y="154.54" width="2.0" height="2.0" fill="#e8151b"/>
<polygon points="606.85,154.48 607.95,156.48 605.75,156.48" fill="#1a8a1a"/>
<circle cx="606.85" cy="155.57" r="1.0" fill="#2ab0e0"/>
<polygon points="606.85,156.68 607.95,154.68 605.75,154.68" fill="#f0a020"/>
<rect x="605.85" y="154.61" width="2.0" height="2.0" fill="#e8151b"/>
<polygon points="609.39,154.55 610.49,156.55 608.29,156.55" fill="#1a8a1a"/>
<circle cx="609.39" cy="155.64" r="1.0" fill="#2ab0e0"/>
<polygon points="609.39,156.75 610.49,154.75 608.29,154.75" fill="#f0a020"/>
<rect x="608.39" y="154.67" width="2.0" height="2.0" fill="#e8151b"/>
<polygon points="611.93,154.60 613.03,156.60 610.83,156.60" fill="#1a8a1a"/>
<circle cx="611.93" cy="155.69" r="1.0" fill="#2ab0e0"/>
<polygon points="611.93,156.80 613.03,154.80 610.83,154.80" fill="#f0a020"/>
<rect x="610.93" y="154.72" width="2.0" height="2.0" fill="#e8151b"/>
<polygon points="614.47,154.65 615.57,156.65 613.37,156.65" fill="#1a8a1a"/>
<circle cx="614.47" cy="155.74" r="1.0" fill="#2ab0e0"/>
<polygon points="614.47,156.85 615.57,154.85 613.37,154.85" fill="#f0a020"/>
<rect x="613.47" y="154.76" width="2.0" height="2.0" fill="#e8151b"/>
<polygon points="617.00,154.68 618.10,156.68 615.90,156.68" fill="#1a8a1a"/>
<circle cx="617.00" cy="155.78" r="1.0" fill="#2ab0e0"/>
<polygon points="617.00,156.88 618.10,154.88 615.90,154.88" fill="#f0a020"/>
<rect x="616.00" y="154.80" width="2.0" height="2.0" fill="#e8151b"/>
<polygon points="619.54,154.71 620.64,156.71 618.44,156.71" fill="#1a8a1a"/>
<circle cx="619.54" cy="155.81" r="1.0" fill="#2ab0e0"/>
<polygon points="619.54,156.91 620.64,154.91 618.44,154.91" fill="#f0a020"/>
<rect x="618.54" y="154.82" width="2.0" height="2.0" fill="#e8151b"/>
<polygon points="622.08,154.74 623.18,156.74 620.98,156.74" fill="#1a8a1a"/>
<circle cx="622.08" cy="155.83" r="1.0" fill="#2ab0e0"/>
<polygon points="622.08,156.94 623.18,154.94 620.98,154.94" fill="#f0a020"/>
<rect x="621.08" y="154.85" width="2.0" height="2.0" fill="#e8151b"/>
<polygon points="624.62,154.76 625.72,156.76 623.52,156.76" fill="#1a8a1a"/>
<circle cx="624.62" cy="155.86" r="1.0" fill="#2ab0e0"/>
<polygon points="624.62,156.96 625.72,154.96 623.52,154.96" fill="#f0a020"/>
<rect x="623.62" y="154.87" width="2.0" height="2.0" fill="#e8151b"/>
<polygon points="627.16,154.78 628.26,156.78 626.06,156.78" fill="#1a8a1a"/>
<circle cx="627.16" cy="155.87" r="1.0" fill="#2ab0e0"/>
<polygon points="627.16,156.98 628.26,154.98 626.06,154.98" fill="#f0a020"/>
<rect x="626.16" y="154.88" width="2.0" height="2.0" fill="#e8151b"/>
<polygon points="629.69,154.79 630.79,156.79 628.59,156.79" fill="#1a8a1a"/>
<circle cx="629.69" cy="155.89" r="1.0" fill="#2ab0e0"/>
<polygon points="629.69,156.99 630.79,154.99 628.59,154.99" fill="#f0a020"/>
<rect x="628.69" y="154.90" width="2.0" height="2.0" fill="#e8151b"/>
<polygon points="632.23,154.80 633.33,156.80 631.13,156.80" fill="#1a8a1a"/>
<circle cx="632.23" cy="155.90" r="1.0" fill="#2ab0e0"/>
<polygon points="632.23,157.00 633.33,155.00 631.13,155.00" fill="#f0a020"/>
<rect x="631.23" y="154.91" width="2.0" height="2.0" fill="#e8151b"/>
<polygon points="634.77,154.81 635.87,156.81 633.67,156.81" fill="#1a8a1a"/>
<circle cx="634.77" cy="155.91" r="1.0" fill="#2ab0e0"/>
<polygon points="634.77,157.01 635.87,155.01 633.67,155.01" fill="#f0a020"/>
<rect x="633.77" y="154.92" width="2.0" height="2.0" fill="#e8151b"/>
<polygon points="637.31,154.82 638.41,156.82 636.21,156.82" fill="#1a8a1a"/>
<circle cx="637.31" cy="155.92" r="1.0" fill="#2ab0e0"/>
<polygon points="637.31,157.02 638.41,155.02 636.21,155.02" fill="#f0a020"/>
<rect x="636.31" y="154.92" width="2.0" height="2.0" fill="#e8151b"/>
<polygon points="639.85,154.83 640.95,156.83 638.75,156.83" fill="#1a8a1a"/>
<circle cx="639.85" cy="155.93" r="1.0" fill="#2ab0e0"/>
<polygon points="639.85,157.03 640.95,155.03 638.75,155.03" fill="#f0a020"/>
<rect x="638.85" y="154.93" width="2.0" height="2.0" fill="#e8151b"/>
<polygon points="642.38,154.83 643.48,156.83 641.28,156.83" fill="#1a8a1a"/>
<circle cx="642.38" cy="155.93" r="1.0" fill="#2ab0e0"/>
<polygon points="642.38,157.03 643.48,155.03 641.28,155.03" fill="#f0a020"/>
<rect x="641.38" y="154.93" width="2.0" height="2.0" fill="#e8151b"/>
<polygon points="644.92,154.84 646.02,156.84 643.82,156.84" fill="#1a8a1a"/>
<circle cx="644.92" cy="155.93" r="1.0" fill="#2ab0e0"/>
<polygon points="644.92,157.04 646.02,155.04 643.82,155.04" fill="#f0a020"/>
<rect x="643.92" y="154.94" width="2.0" height="2.0" fill="#e8151b"/>
<polygon points="647.46,154.84 648.56,156.84 646.36,156.84" fill="#1a8a1a"/>
<circle cx="647.46" cy="155.94" r="1.0" fill="#2ab0e0"/>
<polygon points="647.46,157.04 648.56,155.04 646.36,155.04" fill="#f0a020"/>
<rect x="646.46" y="154.94" width="2.0" height="2.0" fill="#e8151b"/>
<polygon points="650.00,154.84 651.10,156.84 648.90,156.84" fill="#1a8a1a"/>
<circle cx="650.00" cy="155.94" r="1.0" fill="#2ab0e0"/>
<polygon points="650.00,157.04 651.10,155.04 648.90,155.04" fill="#f0a020"/>
<rect x="649.00" y="154.94" width="2.0" height="2.0" fill="#e8151b"/>
<polygon points="652.53,154.84 653.63,156.84 651.43,156.84" fill="#1a8a1a"/>
<circle cx="652.53" cy="155.94" r="1.0" fill="#2ab0e0"/>
<polygon points="652.53,157.04 653.63,155.04 651.43,155.04" fill="#f0a020"/>
<rect x="651.53" y="154.94" width="2.0" height="2.0" fill="#e8151b"/>
<polygon points="655.07,154.85 656.17,156.85 653.97,156.85" fill="#1a8a1a"/>
<circle cx="655.07" cy="155.94" r="1.0" fill="#2ab0e0"/>
<polygon points="655.07,157.05 656.17,155.05 653.97,155.05" fill="#f0a020"/>
<rect x="654.07" y="154.95" width="2.0" height="2.0" fill="#e8151b"/>
<polygon points="657.61,154.85 658.71,156.85 656.51,156.85" fill="#1a8a1a"/>
<circle cx="657.61" cy="155.95" r="1.0" fill="#2ab0e0"/>
<polygon points="657.61,157.05 658.71,155.05 656.51,155.05" fill="#f0a020"/>
<rect x="656.61" y="154.95" width="2.0" height="2.0" fill="#e8151b"/>
<polygon points="660.15,154.85 661.25,156.85 659.05,156.85" fill="#1a8a1a"/>
<circle cx="660.15" cy="155.95" r="1.0" fill="#2ab0e0"/>
<polygon points="660.15,157.05 661.25,155.05 659.05,155.05" fill="#f0a020"/>
<rect x="659.15" y="154.95" width="2.0" height="2.0" fill="#e8151b"/>
<polygon points="662.69,154.85 663.79,156.85 661.59,156.85" fill="#1a8a1a"/>
<circle cx="662.69" cy="155.95" r="1.0" fill="#2ab0e0"/>
<polygon points="662.69,157.05 663.79,155.05 661.59,155.05" fill="#f0a020"/>
<rect x="661.69" y="154.95" width="2.0" height="2.0" fill="#e8151b"/>
<polygon points="665.22,154.85 666.32,156.85 664.12,156.85" fill="#1a8a1a"/>
<circle cx="665.22" cy="155.95" r="1.0" fill="#2ab0e0"/>
<polygon points="665.22,157.05 666.32,155.05 664.12,155.05" fill="#f0a020"/>
<rect x="664.22" y="154.95" width="2.0" height="2.0" fill="#e8151b"/>
<polygon points="667.76,154.85 668.86,156.85 666.66,156.85" fill="#1a8a1a"/>
<circle cx="667.76" cy="155.95" r="1.0" fill="#2ab0e0"/>
<polygon points="667.76,157.05 668.86,155.05 666.66,155.05" fill="#f0a020"/>
<rect x="666.76" y="154.95" width="2.0" height="2.0" fill="#e8151b"/>
<polygon points="670.30,154.85 671.40,156.85 669.20,156.85" fill="#1a8a1a"/>
<circle cx="670.30" cy="155.95" r="1.0" fill="#2ab0e0"/>
<polygon points="670.30,157.05 671.40,155.05 669.20,155.05" fill="#f0a020"/>
<rect x="669.30" y="154.95" width="2.0" height="2.0" fill="#e8151b"/>
</g>
<rect x="452.4" y="15.2" width="217.89999999999998" height="160.4" fill="none" stroke="#333" stroke-width="0.9"/>
<line x1="449.9" y1="175.60" x2="452.4" y2="175.60" stroke="#333" stroke-width="0.7"/>
<text x="448.4" y="178.40" font-size="8.2" font-family="Liberation Sans, sans-serif" fill="#222" text-anchor="end">-0.1</text>
<line x1="449.9" y1="155.55" x2="452.4" y2="155.55" stroke="#333" stroke-width="0.7"/>
<text x="448.4" y="158.35" font-size="8.2" font-family="Liberation Sans, sans-serif" fill="#222" text-anchor="end">0.0</text>
<line x1="449.9" y1="135.50" x2="452.4" y2="135.50" stroke="#333" stroke-width="0.7"/>
<text x="448.4" y="138.30" font-size="8.2" font-family="Liberation Sans, sans-serif" fill="#222" text-anchor="end">0.1</text>
<line x1="449.9" y1="115.45" x2="452.4" y2="115.45" stroke="#333" stroke-width="0.7"/>
<text x="448.4" y="118.25" font-size="8.2" font-family="Liberation Sans, sans-serif" fill="#222" text-anchor="end">0.2</text>
<line x1="449.9" y1="95.40" x2="452.4" y2="95.40" stroke="#333" stroke-width="0.7"/>
<text x="448.4" y="98.20" font-size="8.2" font-family="Liberation Sans, sans-serif" fill="#222" text-anchor="end">0.3</text>
<line x1="449.9" y1="75.35" x2="452.4" y2="75.35" stroke="#333" stroke-width="0.7"/>
<text x="448.4" y="78.15" font-size="8.2" font-family="Liberation Sans, sans-serif" fill="#222" text-anchor="end">0.4</text>
<line x1="449.9" y1="55.30" x2="452.4" y2="55.30" stroke="#333" stroke-width="0.7"/>
<text x="448.4" y="58.10" font-size="8.2" font-family="Liberation Sans, sans-serif" fill="#222" text-anchor="end">0.5</text>
<line x1="449.9" y1="35.25" x2="452.4" y2="35.25" stroke="#333" stroke-width="0.7"/>
<text x="448.4" y="38.05" font-size="8.2" font-family="Liberation Sans, sans-serif" fill="#222" text-anchor="end">0.6</text>
<line x1="449.9" y1="15.20" x2="452.4" y2="15.20" stroke="#333" stroke-width="0.7"/>
<text x="448.4" y="18.00" font-size="8.2" font-family="Liberation Sans, sans-serif" fill="#222" text-anchor="end">0.7</text>
<line x1="452.40" y1="175.6" x2="452.40" y2="178.1" stroke="#333" stroke-width="0.7"/>
<text x="452.40" y="186.6" font-size="8.6" font-family="Liberation Sans, sans-serif" fill="#222" text-anchor="middle">0</text>
<line x1="495.98" y1="175.6" x2="495.98" y2="178.1" stroke="#333" stroke-width="0.7"/>
<text x="495.98" y="186.6" font-size="8.6" font-family="Liberation Sans, sans-serif" fill="#222" text-anchor="middle">20</text>
<line x1="539.56" y1="175.6" x2="539.56" y2="178.1" stroke="#333" stroke-width="0.7"/>
<text x="539.56" y="186.6" font-size="8.6" font-family="Liberation Sans, sans-serif" fill="#222" text-anchor="middle">40</text>
<line x1="583.14" y1="175.6" x2="583.14" y2="178.1" stroke="#333" stroke-width="0.7"/>
<text x="583.14" y="186.6" font-size="8.6" font-family="Liberation Sans, sans-serif" fill="#222" text-anchor="middle">60</text>
<line x1="626.72" y1="175.6" x2="626.72" y2="178.1" stroke="#333" stroke-width="0.7"/>
<text x="626.72" y="186.6" font-size="8.6" font-family="Liberation Sans, sans-serif" fill="#222" text-anchor="middle">80</text>
<line x1="670.30" y1="175.6" x2="670.30" y2="178.1" stroke="#333" stroke-width="0.7"/>
<text x="670.30" y="186.6" font-size="8.6" font-family="Liberation Sans, sans-serif" fill="#222" text-anchor="middle">100</text>
<text transform="translate(430.6,94.5) rotate(-90)" font-size="9" font-family="Liberation Sans, sans-serif" fill="#222" text-anchor="middle">OD</text>
<text x="564.8" y="196.2" font-size="9.5" font-family="Liberation Sans, sans-serif" fill="#222" text-anchor="middle">Position <tspan font-style="italic">k</tspan> ( μm<tspan font-size="6" dy="-3">-1</tspan><tspan dy="3">)</tspan></text>
<rect x="607.8" y="21.3" width="54.5" height="52.5" rx="1.5" fill="#fff" fill-opacity="0.8" stroke="#ddd" stroke-width="0.6"/>
<rect x="610.3" y="25.60" width="17.8" height="6" fill="#40c8f0" fill-opacity="0.35" stroke="#40c8f0" stroke-width="0.8"/>
<circle cx="619.2" cy="28.60" r="1.1" fill="#2ab0e0"/>
<text x="635.6" y="31.70" font-size="8.6" font-family="Liberation Sans, sans-serif" fill="#222">SU(1)</text>
<rect x="610.3" y="37.90" width="17.8" height="6" fill="#3a9a3a" fill-opacity="0.35" stroke="#3a9a3a" stroke-width="0.8"/>
<polygon points="619.2,39.60 620.5,41.90 617.9000000000001,41.90" fill="#1a8a1a"/>
<text x="635.6" y="44.00" font-size="8.6" font-family="Liberation Sans, sans-serif" fill="#222">SU(2)</text>
<rect x="610.3" y="50.20" width="17.8" height="6" fill="#ffb84d" fill-opacity="0.35" stroke="#ffb84d" stroke-width="0.8"/>
<polygon points="619.2,54.50 620.5,52.20 617.9000000000001,52.20" fill="#f0a020"/>
<text x="635.6" y="56.30" font-size="8.6" font-family="Liberation Sans, sans-serif" fill="#222">SU(5)</text>
<rect x="610.3" y="62.50" width="17.8" height="6" fill="#f05050" fill-opacity="0.35" stroke="#f05050" stroke-width="0.8"/>
<rect x="618.1" y="64.40" width="2.2" height="2.2" fill="#e8151b"/>
<text x="635.6" y="68.60" font-size="8.6" font-family="Liberation Sans, sans-serif" fill="#222">SU(6)</text>
<polygon points="401.48,345.59 525.55,293.74 525.35,218.04 392.68,268.86" fill="#f7f7f7" />
<polygon points="525.55,293.74 649.58,345.99 657.95,269.43 525.35,218.04" fill="#efefef" />
<polygon points="401.48,345.59 525.73,404.05 649.58,345.99 525.55,293.74" fill="#f2f2f2" />
<polygon points="417.50,345.61 525.72,396.16 633.61,345.97 525.56,300.13" fill="#e3dae3" />
<polygon points="515.09,317.85 525.59,322.41 525.57,312.73 514.97,308.18" fill="#ee7038" stroke="#ee7038" stroke-width="0.35" stroke-linejoin="round"/>
<polygon points="525.59,322.41 536.08,317.89 536.15,308.22 525.57,312.73" fill="#70351a" stroke="#70351a" stroke-width="0.35" stroke-linejoin="round"/>
<polygon points="514.97,308.18 525.57,312.73 536.15,308.22 525.55,303.71" fill="#cd6030" stroke="#cd6030" stroke-width="0.35" stroke-linejoin="round"/>
<polygon points="536.20,327.02 546.90,331.66 546.93,330.06 536.21,325.41" fill="#e03020" stroke="#e03020" stroke-width="0.35" stroke-linejoin="round"/>
<polygon points="546.90,331.66 557.39,327.05 557.43,325.45 546.93,330.06" fill="#69170f" stroke="#69170f" stroke-width="0.35" stroke-linejoin="round"/>
<polygon points="536.21,325.41 546.93,330.06 557.43,325.45 546.71,320.85" fill="#c1291c" stroke="#c1291c" stroke-width="0.35" stroke-linejoin="round"/>
<polygon points="472.10,336.21 482.60,340.95 482.44,336.92 471.89,332.19" fill="#46d8b0" stroke="#46d8b0" stroke-width="0.35" stroke-linejoin="round"/>
<polygon points="482.60,340.95 493.51,336.25 493.38,332.22 482.44,336.92" fill="#216653" stroke="#216653" stroke-width="0.35" stroke-linejoin="round"/>
<polygon points="471.89,332.19 482.44,336.92 493.38,332.22 482.84,327.53" fill="#3cba97" stroke="#3cba97" stroke-width="0.35" stroke-linejoin="round"/>
<polygon points="514.92,336.28 525.63,341.02 525.61,333.51 514.82,328.78" fill="#cfc576" stroke="#cfc576" stroke-width="0.35" stroke-linejoin="round"/>
<polygon points="525.63,341.02 536.32,336.32 536.37,328.82 525.61,333.51" fill="#615d37" stroke="#615d37" stroke-width="0.35" stroke-linejoin="round"/>
<polygon points="514.82,328.78 525.61,333.51 536.37,328.82 525.59,324.13" fill="#b2a965" stroke="#b2a965" stroke-width="0.35" stroke-linejoin="round"/>
<polygon points="557.71,336.36 568.62,341.09 568.67,339.73 557.75,334.99" fill="#e02010" stroke="#e02010" stroke-width="0.35" stroke-linejoin="round"/>
<polygon points="568.62,341.09 579.10,336.39 579.16,335.03 568.67,339.73" fill="#690f08" stroke="#690f08" stroke-width="0.35" stroke-linejoin="round"/>
<polygon points="557.75,334.99 568.67,339.73 579.16,335.03 568.24,330.34" fill="#c11c0e" stroke="#c11c0e" stroke-width="0.35" stroke-linejoin="round"/>
<polygon points="449.96,345.66 460.46,350.50 456.19,281.32 445.05,276.54" fill="#1a80dc" stroke="#1a80dc" stroke-width="0.35" stroke-linejoin="round"/>
<polygon points="460.46,350.50 471.59,345.70 468.03,276.59 456.19,281.32" fill="#0c3c67" stroke="#0c3c67" stroke-width="0.35" stroke-linejoin="round"/>
<polygon points="445.05,276.54 456.19,281.32 468.03,276.59 456.89,271.86" fill="#166ebd" stroke="#166ebd" stroke-width="0.35" stroke-linejoin="round"/>
<polygon points="493.21,345.74 503.92,350.57 502.43,283.95 491.08,279.17" fill="#64dca4" stroke="#64dca4" stroke-width="0.35" stroke-linejoin="round"/>
<polygon points="503.92,350.57 514.83,345.77 514.00,279.22 502.43,283.95" fill="#2f674d" stroke="#2f674d" stroke-width="0.35" stroke-linejoin="round"/>
<polygon points="491.08,279.17 502.43,283.95 514.00,279.22 502.65,274.49" fill="#56bd8d" stroke="#56bd8d" stroke-width="0.35" stroke-linejoin="round"/>
<polygon points="536.44,345.81 547.36,350.64 548.64,275.59 536.97,270.82" fill="#dea860" stroke="#dea860" stroke-width="0.35" stroke-linejoin="round"/>
<polygon points="547.36,350.64 558.04,345.84 560.04,270.87 548.64,275.59" fill="#684f2d" stroke="#684f2d" stroke-width="0.35" stroke-linejoin="round"/>
<polygon points="536.97,270.82 548.64,275.59 560.04,270.87 548.38,266.15" fill="#bf9053" stroke="#bf9053" stroke-width="0.35" stroke-linejoin="round"/>
<polygon points="579.64,345.88 590.77,350.71 594.89,277.61 583.01,272.83" fill="#e80000" stroke="#e80000" stroke-width="0.35" stroke-linejoin="round"/>
<polygon points="590.77,350.71 601.23,345.91 606.03,272.88 594.89,277.61" fill="#6d0000" stroke="#6d0000" stroke-width="0.35" stroke-linejoin="round"/>
<polygon points="583.01,272.83 594.89,277.61 606.03,272.88 594.16,268.16" fill="#c80000" stroke="#c80000" stroke-width="0.35" stroke-linejoin="round"/>
<polygon points="471.07,355.38 481.78,360.30 481.58,355.62 470.82,350.69" fill="#18a2d8" stroke="#18a2d8" stroke-width="0.35" stroke-linejoin="round"/>
<polygon points="481.78,360.30 492.90,355.41 492.75,350.73 481.58,355.62" fill="#0b4c66" stroke="#0b4c66" stroke-width="0.35" stroke-linejoin="round"/>
<polygon points="470.82,350.69 481.58,355.62 492.75,350.73 482.00,345.85" fill="#158bba" stroke="#158bba" stroke-width="0.35" stroke-linejoin="round"/>
<polygon points="514.74,355.45 525.66,360.37 525.63,348.18 514.58,343.26" fill="#80e098" stroke="#80e098" stroke-width="0.35" stroke-linejoin="round"/>
<polygon points="525.66,360.37 536.56,355.48 536.65,343.29 525.63,348.18" fill="#3c6947" stroke="#3c6947" stroke-width="0.35" stroke-linejoin="round"/>
<polygon points="514.58,343.26 525.63,348.18 536.65,343.29 525.61,338.42" fill="#6ec183" stroke="#6ec183" stroke-width="0.35" stroke-linejoin="round"/>
<polygon points="558.38,355.51 569.51,360.44 569.56,359.07 558.42,354.15" fill="#e88840" stroke="#e88840" stroke-width="0.35" stroke-linejoin="round"/>
<polygon points="569.51,360.44 580.19,355.55 580.26,354.18 569.56,359.07" fill="#6d401e" stroke="#6d401e" stroke-width="0.35" stroke-linejoin="round"/>
<polygon points="558.42,354.15 569.56,359.07 580.26,354.18 569.11,349.30" fill="#c87537" stroke="#c87537" stroke-width="0.35" stroke-linejoin="round"/>
<polygon points="492.59,365.28 503.52,370.31 503.42,366.27 492.46,361.24" fill="#20b8d0" stroke="#20b8d0" stroke-width="0.35" stroke-linejoin="round"/>
<polygon points="503.52,370.31 514.64,365.31 514.59,361.28 503.42,366.27" fill="#0f5662" stroke="#0f5662" stroke-width="0.35" stroke-linejoin="round"/>
<polygon points="492.46,361.24 503.42,366.27 514.59,361.28 503.63,356.30" fill="#1c9eb3" stroke="#1c9eb3" stroke-width="0.35" stroke-linejoin="round"/>
<polygon points="536.69,365.35 547.83,370.37 547.86,368.60 536.70,363.57" fill="#80e080" stroke="#80e080" stroke-width="0.35" stroke-linejoin="round"/>
<polygon points="547.83,370.37 558.72,365.38 558.77,363.61 547.86,368.60" fill="#3c693c" stroke="#3c693c" stroke-width="0.35" stroke-linejoin="round"/>
<polygon points="536.70,363.57 547.86,368.60 558.77,363.61 547.62,358.63" fill="#6ec16e" stroke="#6ec16e" stroke-width="0.35" stroke-linejoin="round"/>
<polygon points="514.55,375.38 525.69,380.51 525.67,372.40 514.44,367.27" fill="#38d8c8" stroke="#38d8c8" stroke-width="0.35" stroke-linejoin="round"/>
<polygon points="525.69,380.51 536.81,375.41 536.88,367.30 525.67,372.40" fill="#1a665e" stroke="#1a665e" stroke-width="0.35" stroke-linejoin="round"/>
<polygon points="514.44,367.27 525.67,372.40 536.88,367.30 525.65,362.23" fill="#30baac" stroke="#30baac" stroke-width="0.35" stroke-linejoin="round"/>
<line x1="401.48" y1="345.59" x2="525.73" y2="404.05" stroke="#333" stroke-width="0.8"/>
<line x1="525.73" y1="404.05" x2="649.58" y2="345.99" stroke="#333" stroke-width="0.8"/>
<line x1="649.58" y1="345.99" x2="657.95" y2="269.43" stroke="#333" stroke-width="0.8"/>
<line x1="429.87" y1="358.94" x2="427.12" y2="360.12" stroke="#333" stroke-width="0.7"/>
<line x1="556.63" y1="389.57" x2="559.38" y2="390.83" stroke="#333" stroke-width="0.7"/>
<line x1="451.07" y1="368.92" x2="448.32" y2="370.12" stroke="#333" stroke-width="0.7"/>
<line x1="578.64" y1="379.25" x2="581.39" y2="380.48" stroke="#333" stroke-width="0.7"/>
<line x1="472.70" y1="379.10" x2="469.95" y2="380.33" stroke="#333" stroke-width="0.7"/>
<line x1="600.20" y1="369.14" x2="602.95" y2="370.35" stroke="#333" stroke-width="0.7"/>
<line x1="494.77" y1="389.48" x2="492.02" y2="390.74" stroke="#333" stroke-width="0.7"/>
<line x1="621.32" y1="359.24" x2="624.07" y2="360.43" stroke="#333" stroke-width="0.7"/>
<line x1="649.58" y1="345.99" x2="651.78" y2="345.99" stroke="#333" stroke-width="0.7"/>
<text x="653.18" y="349.59" font-size="8.4" font-family="Liberation Sans, sans-serif" fill="#222">0.0</text>
<line x1="651.36" y1="329.72" x2="653.56" y2="329.72" stroke="#333" stroke-width="0.7"/>
<text x="654.96" y="333.32" font-size="8.4" font-family="Liberation Sans, sans-serif" fill="#222">0.2</text>
<line x1="653.19" y1="312.96" x2="655.39" y2="312.96" stroke="#333" stroke-width="0.7"/>
<text x="656.79" y="316.56" font-size="8.4" font-family="Liberation Sans, sans-serif" fill="#222">0.4</text>
<line x1="655.08" y1="295.69" x2="657.28" y2="295.69" stroke="#333" stroke-width="0.7"/>
<text x="658.68" y="299.29" font-size="8.4" font-family="Liberation Sans, sans-serif" fill="#222">0.6</text>
<line x1="657.03" y1="277.89" x2="659.23" y2="277.89" stroke="#333" stroke-width="0.7"/>
<text x="660.63" y="281.49" font-size="8.4" font-family="Liberation Sans, sans-serif" fill="#222">0.8</text>
<text x="414.6" y="368.0" font-size="9" font-family="Liberation Sans, sans-serif" fill="#222" text-anchor="middle">SU(1)</text>
<text x="571.6" y="398.2" font-size="9" font-family="Liberation Sans, sans-serif" fill="#222" text-anchor="middle">SU(1)</text>
<text x="436.7" y="377.6" font-size="9" font-family="Liberation Sans, sans-serif" fill="#222" text-anchor="middle">SU(2)</text>
<text x="593.2" y="388.6" font-size="9" font-family="Liberation Sans, sans-serif" fill="#222" text-anchor="middle">SU(2)</text>
<text x="459.3" y="388.0" font-size="9" font-family="Liberation Sans, sans-serif" fill="#222" text-anchor="middle">SU(5)</text>
<text x="615" y="377.6" font-size="9" font-family="Liberation Sans, sans-serif" fill="#222" text-anchor="middle">SU(5)</text>
<text x="481.2" y="398.1" font-size="9" font-family="Liberation Sans, sans-serif" fill="#222" text-anchor="middle">SU(6)</text>
<text x="637" y="368.0" font-size="9" font-family="Liberation Sans, sans-serif" fill="#222" text-anchor="middle">SU(6)</text>
<text transform="translate(426.8,388.8) rotate(25.5)" y="3.4" font-size="10" font-family="Liberation Sans, sans-serif" fill="#222" text-anchor="middle">Predicted SU(<tspan font-style="italic">N</tspan>)</text>
<text transform="translate(611.2,395.6) rotate(-25.5)" y="3.4" font-size="10" font-family="Liberation Sans, sans-serif" fill="#222" text-anchor="middle">Labeled SU(<tspan font-style="italic">N</tspan>)</text>
<text transform="translate(679.6,313.3) rotate(-85)" y="0" font-size="9.9" font-family="Liberation Sans, sans-serif" fill="#222" text-anchor="middle">Output probability of NN</text>
<text x="458.5" y="271.1" font-size="8.2" font-family="Liberation Sans, sans-serif" fill="#222" text-anchor="middle">81.0%</text>
<text x="504.2" y="273.6" font-size="8.2" font-family="Liberation Sans, sans-serif" fill="#222" text-anchor="middle">78.2%</text>
<text x="550.3" y="264.3" font-size="8.2" font-family="Liberation Sans, sans-serif" fill="#222" text-anchor="middle">87.5%</text>
<text x="596.5" y="267.0" font-size="8.2" font-family="Liberation Sans, sans-serif" fill="#222" text-anchor="middle">85.4%</text>
<rect x="470.3" y="227" width="109.7" height="26.7" fill="#e2d9e2"/>
<text x="524.8" y="237.1" font-size="9.5" font-family="Liberation Sans, sans-serif" fill="#222" text-anchor="middle">Classification accuracy</text>
<text x="526.2" y="248.0" font-size="9.5" font-family="Liberation Sans, sans-serif" fill="#222" text-anchor="middle">~ 94%</text>
<text x="4.9" y="224.8" font-size="15.4" font-family="Liberation Sans, sans-serif" fill="#222">d</text>
<text x="64.7" y="236.9" font-size="9.5" font-family="Liberation Sans, sans-serif" fill="#222" text-anchor="middle">Input image</text>
<text x="63.4" y="248.1" font-size="9.5" font-family="Liberation Sans, sans-serif" fill="#222" text-anchor="middle">(201 x 201 pixel)</text>
<rect x="1.4" y="256.2" width="126.5" height="126.6" fill="#fff1eb"/>
<circle cx="63.5" cy="323" r="28" fill="url(#blob2)" filter="url(#speck)"/>
<path d="M18.3,268.1 L113.4,268.1 L113.4,287.2 L19.5,287.2 L19.5,307.5 L41,307.5" fill="none" stroke="#333" stroke-width="0.9"/>
<polygon points="46,307.5 40,305 40,310" fill="#111"/>
<rect x="46" y="295" width="24.4" height="24.5" fill="#5a5a5a" fill-opacity="0.58" stroke="#333" stroke-width="0.8"/>
<text x="98.9" y="377.7" font-size="5.4" font-family="Liberation Sans, sans-serif" fill="#333">10 μm<tspan font-size="3.6" dy="-2">-1</tspan></text>
<path d="M121.4,372.2 L121.4,377.7 M120.1,372.2 L122.7,372.2 M120.1,377.7 L122.7,377.7" stroke="#222" stroke-width="0.9"/>
<rect x="155.5" y="267.3" width="63" height="63" fill="#fff" stroke="#333" stroke-width="0.9"/>
<rect x="163.4" y="277.6" width="63" height="63" fill="#fff" stroke="#333" stroke-width="0.9"/>
<rect x="171.3" y="287.9" width="63" height="63" fill="#fff" stroke="#333" stroke-width="0.9"/>
<rect x="179.2" y="298.2" width="63" height="63" fill="#fff" stroke="#333" stroke-width="0.9"/>
<rect x="187.1" y="308.5" width="63" height="63" fill="#fff" stroke="#333" stroke-width="0.9"/>
<line x1="70.4" y1="307.6" x2="155.5" y2="297.1" stroke="#555" stroke-width="0.55"/>
<line x1="70.4" y1="307.6" x2="163.4" y2="308.0" stroke="#555" stroke-width="0.55"/>
<line x1="70.4" y1="307.6" x2="171.3" y2="318.9" stroke="#555" stroke-width="0.55"/>
<line x1="70.4" y1="307.6" x2="179.2" y2="329.8" stroke="#555" stroke-width="0.55"/>
<line x1="70.4" y1="307.6" x2="187.1" y2="340.7" stroke="#555" stroke-width="0.55"/>
<text x="187.85" y="237.0" font-size="9.5" font-family="Liberation Sans, sans-serif" fill="#222" text-anchor="middle">Convolutional layer + ReLU</text>
<text x="186.4" y="248.1" font-size="9.5" font-family="Liberation Sans, sans-serif" fill="#222" text-anchor="middle">24 kernels (24 x 24 pixel)</text>
<rect x="275.2" y="290.2" width="31" height="30.5" fill="#fff" stroke="#333" stroke-width="0.9"/>
<rect x="283.4" y="297.1" width="31" height="30.5" fill="#fff" stroke="#333" stroke-width="0.9"/>
<rect x="291.6" y="303.9" width="31" height="30.5" fill="#fff" stroke="#333" stroke-width="0.9"/>
<rect x="299.8" y="310.8" width="31" height="30.5" fill="#fff" stroke="#333" stroke-width="0.9"/>
<rect x="308.0" y="317.6" width="31" height="30.5" fill="#fff" stroke="#333" stroke-width="0.9"/>
<line x1="242.5" y1="301.1" x2="275.2" y2="305.2" stroke="#555" stroke-width="0.55"/>
<line x1="250" y1="340.3" x2="307.9" y2="333.1" stroke="#555" stroke-width="0.55"/>
<text x="287.7" y="237.0" font-size="9.5" font-family="Liberation Sans, sans-serif" fill="#222" text-anchor="middle">Pooling layer</text>
<line x1="339.8" y1="332.8" x2="374.6" y2="293.3" stroke="#555" stroke-width="0.55"/>
<circle cx="381" cy="291.8" r="6.6" fill="#fff" stroke="#333" stroke-width="0.9"/>
<path d="M392.6,290.2 L399,290.2 L399,287.7 L405.3,291.8 L399,295.9 L399,293.4 L392.6,293.4 Z" fill="#1a78c8"/>
<line x1="339.8" y1="332.8" x2="374.6" y2="311.8" stroke="#555" stroke-width="0.55"/>
<circle cx="381" cy="310.3" r="6.6" fill="#fff" stroke="#333" stroke-width="0.9"/>
<path d="M392.6,308.7 L399,308.7 L399,306.2 L405.3,310.3 L399,314.4 L399,311.9 L392.6,311.9 Z" fill="#1a78c8"/>
<line x1="339.8" y1="332.8" x2="374.6" y2="328.4" stroke="#555" stroke-width="0.55"/>
<circle cx="381" cy="328.4" r="6.6" fill="#fff" stroke="#333" stroke-width="0.9"/>
<path d="M392.6,326.8 L399,326.8 L399,324.3 L405.3,328.4 L399,332.5 L399,330.0 L392.6,330.0 Z" fill="#1a78c8"/>
<line x1="339.8" y1="332.8" x2="374.6" y2="345.4" stroke="#555" stroke-width="0.55"/>
<circle cx="381" cy="346.7" r="6.6" fill="#fff" stroke="#333" stroke-width="0.9"/>
<path d="M392.6,345.1 L399,345.1 L399,342.6 L405.3,346.7 L399,350.8 L399,348.3 L392.6,348.3 Z" fill="#1a78c8"/>
<text x="373.8" y="237.0" font-size="9.5" font-family="Liberation Sans, sans-serif" fill="#222" text-anchor="middle">Fully connected layer</text>
<text x="372.5" y="248.1" font-size="9.5" font-family="Liberation Sans, sans-serif" fill="#222" text-anchor="middle">+Softmax</text>
</svg></body></html>
